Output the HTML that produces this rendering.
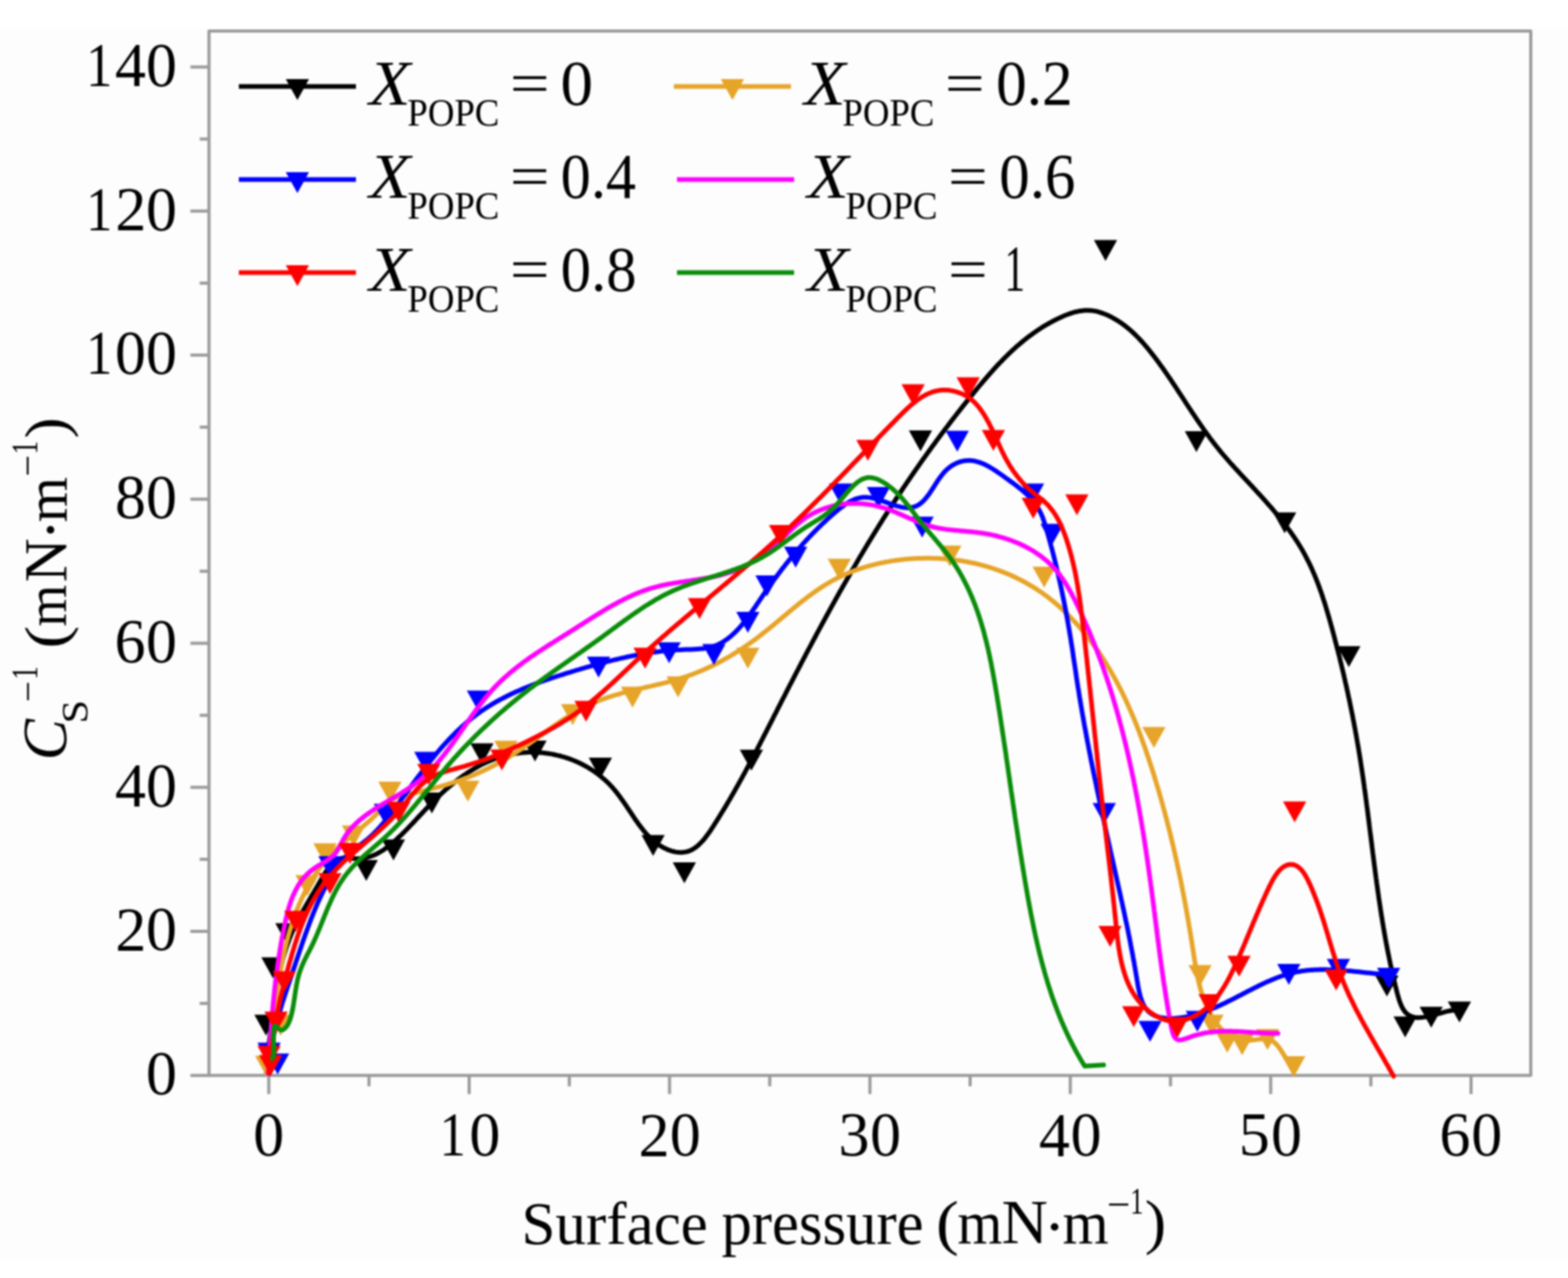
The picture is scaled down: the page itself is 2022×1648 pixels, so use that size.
<!DOCTYPE html>
<html><head><meta charset="utf-8"><title>Compressibility modulus vs surface pressure</title>
<style>html,body{margin:0;padding:0;background:#fdfdfd;}body{width:2022px;height:1648px;overflow:hidden;}svg{display:block;filter:blur(0.8px);}</style>
</head><body>
<svg xmlns="http://www.w3.org/2000/svg" width="2022" height="1648" viewBox="0 0 2022 1648" font-family="'Liberation Serif', 'Times New Roman', serif" fill="#000"><rect x="0" y="0" width="2022" height="37" fill="#ffffff"/>
<rect x="0" y="1624" width="2022" height="24" fill="#ffffff"/>
<rect x="269.5" y="40.0" width="1704.5" height="1346.8" fill="none" stroke="#9a9a9a" stroke-width="4" stroke-linejoin="round"/>
<line x1="245.5" y1="1386.8" x2="269.5" y2="1386.8" stroke="#9a9a9a" stroke-width="4"/>
<line x1="257.5" y1="1293.9" x2="269.5" y2="1293.9" stroke="#9a9a9a" stroke-width="4"/>
<line x1="245.5" y1="1201.0" x2="269.5" y2="1201.0" stroke="#9a9a9a" stroke-width="4"/>
<line x1="257.5" y1="1108.1" x2="269.5" y2="1108.1" stroke="#9a9a9a" stroke-width="4"/>
<line x1="245.5" y1="1015.3" x2="269.5" y2="1015.3" stroke="#9a9a9a" stroke-width="4"/>
<line x1="257.5" y1="922.4" x2="269.5" y2="922.4" stroke="#9a9a9a" stroke-width="4"/>
<line x1="245.5" y1="829.5" x2="269.5" y2="829.5" stroke="#9a9a9a" stroke-width="4"/>
<line x1="257.5" y1="736.6" x2="269.5" y2="736.6" stroke="#9a9a9a" stroke-width="4"/>
<line x1="245.5" y1="643.7" x2="269.5" y2="643.7" stroke="#9a9a9a" stroke-width="4"/>
<line x1="257.5" y1="550.8" x2="269.5" y2="550.8" stroke="#9a9a9a" stroke-width="4"/>
<line x1="245.5" y1="457.9" x2="269.5" y2="457.9" stroke="#9a9a9a" stroke-width="4"/>
<line x1="257.5" y1="365.1" x2="269.5" y2="365.1" stroke="#9a9a9a" stroke-width="4"/>
<line x1="245.5" y1="272.2" x2="269.5" y2="272.2" stroke="#9a9a9a" stroke-width="4"/>
<line x1="257.5" y1="179.3" x2="269.5" y2="179.3" stroke="#9a9a9a" stroke-width="4"/>
<line x1="245.5" y1="86.4" x2="269.5" y2="86.4" stroke="#9a9a9a" stroke-width="4"/>
<line x1="346.6" y1="1386.8" x2="346.6" y2="1410.8" stroke="#9a9a9a" stroke-width="4"/>
<line x1="475.8" y1="1386.8" x2="475.8" y2="1400.8" stroke="#9a9a9a" stroke-width="4"/>
<line x1="605.0" y1="1386.8" x2="605.0" y2="1410.8" stroke="#9a9a9a" stroke-width="4"/>
<line x1="734.2" y1="1386.8" x2="734.2" y2="1400.8" stroke="#9a9a9a" stroke-width="4"/>
<line x1="863.4" y1="1386.8" x2="863.4" y2="1410.8" stroke="#9a9a9a" stroke-width="4"/>
<line x1="992.6" y1="1386.8" x2="992.6" y2="1400.8" stroke="#9a9a9a" stroke-width="4"/>
<line x1="1121.8" y1="1386.8" x2="1121.8" y2="1410.8" stroke="#9a9a9a" stroke-width="4"/>
<line x1="1251.0" y1="1386.8" x2="1251.0" y2="1400.8" stroke="#9a9a9a" stroke-width="4"/>
<line x1="1380.2" y1="1386.8" x2="1380.2" y2="1410.8" stroke="#9a9a9a" stroke-width="4"/>
<line x1="1509.4" y1="1386.8" x2="1509.4" y2="1400.8" stroke="#9a9a9a" stroke-width="4"/>
<line x1="1638.6" y1="1386.8" x2="1638.6" y2="1410.8" stroke="#9a9a9a" stroke-width="4"/>
<line x1="1767.8" y1="1386.8" x2="1767.8" y2="1400.8" stroke="#9a9a9a" stroke-width="4"/>
<line x1="1897.0" y1="1386.8" x2="1897.0" y2="1410.8" stroke="#9a9a9a" stroke-width="4"/>
<path d="M343.6,1371.8 343.8,1369.8 344.1,1367.9 344.4,1366.0 344.6,1364.0 344.9,1362.1 345.2,1360.2 345.4,1358.2 345.7,1356.3 345.9,1354.3 346.2,1352.3 346.4,1350.4 346.7,1348.4 346.9,1346.4 347.1,1344.5 347.4,1342.5 347.6,1340.5 347.9,1338.5 348.1,1336.6 348.3,1334.6 348.6,1332.6 348.8,1330.6 349.0,1328.6 349.3,1326.6 349.5,1324.6 349.8,1322.6 350.0,1320.6 350.2,1318.6 350.5,1316.6 350.7,1314.6 351.0,1312.6 351.2,1310.6 351.5,1308.6 351.7,1306.6 352.0,1304.6 352.3,1302.6 352.5,1300.6 352.8,1298.6 353.1,1296.6 353.4,1294.6 353.7,1292.6 353.9,1290.6 354.2,1288.6 354.5,1286.6 354.9,1284.6 355.2,1282.6 355.5,1280.6 355.8,1278.7 356.1,1276.7 356.5,1274.7 356.8,1272.7 357.2,1270.7 357.5,1268.7 357.9,1266.8 358.3,1264.8 358.7,1262.8 359.1,1260.8 359.5,1258.9 359.9,1256.9 360.3,1254.9 360.7,1253.0 361.2,1251.0 361.6,1249.1 362.1,1247.1 362.5,1245.2 363.0,1243.2 363.5,1241.3 364.0,1239.4 364.5,1237.5 365.1,1235.5 365.6,1233.6 366.2,1231.7 366.7,1229.8 367.3,1227.9 367.9,1226.0 368.5,1224.1 369.1,1222.2 369.7,1220.4 370.4,1218.5 371.0,1216.6 371.7,1214.8 372.4,1212.9 373.1,1211.0 373.8,1209.2 374.5,1207.4 375.2,1205.5 376.0,1203.7 376.8,1201.9 377.6,1200.1 378.4,1198.3 379.2,1196.5 380.0,1194.7 380.9,1193.0 381.8,1191.2 382.6,1189.4 383.5,1187.7 384.4,1185.9 385.4,1184.2 386.3,1182.5 387.2,1180.8 388.2,1179.0 389.1,1177.3 390.1,1175.6 391.0,1174.0 392.0,1172.3 392.9,1170.6 393.9,1169.0 394.8,1167.3 395.8,1165.7 396.8,1164.0 397.7,1162.4 398.7,1160.8 399.6,1159.1 400.6,1157.5 401.6,1155.8 402.5,1154.2 403.5,1152.5 404.5,1150.9 405.5,1149.2 406.4,1147.5 407.4,1145.8 408.5,1144.0 409.5,1142.3 410.5,1140.5 411.5,1138.7 412.6,1136.9 413.6,1135.1 414.7,1133.2 415.8,1131.3 416.9,1129.4 418.0,1127.6 419.2,1125.7 420.4,1123.9 421.6,1122.2 422.8,1120.4 424.1,1118.7 425.4,1117.1 426.8,1115.6 428.2,1114.1 429.6,1112.8 431.1,1111.5 432.7,1110.4 434.2,1109.3 435.9,1108.4 437.6,1107.7 439.3,1107.0 441.2,1106.6 443.0,1106.3 445.0,1106.1 447.0,1106.1 449.1,1106.3 451.1,1106.5 453.2,1106.7 455.4,1106.9 457.4,1107.1 459.5,1107.2 461.6,1107.3 463.6,1107.2 465.6,1107.1 467.6,1106.8 469.5,1106.5 471.5,1106.2 473.4,1105.7 475.2,1105.2 477.1,1104.7 478.9,1104.0 480.8,1103.3 482.6,1102.6 484.3,1101.8 486.1,1100.9 487.8,1100.0 489.5,1099.0 491.2,1098.0 492.9,1097.0 494.6,1095.9 496.2,1094.8 497.8,1093.6 499.4,1092.4 501.0,1091.2 502.6,1089.9 504.1,1088.7 505.7,1087.4 507.2,1086.1 508.7,1084.7 510.2,1083.4 511.7,1082.1 513.1,1080.7 514.6,1079.3 516.0,1078.0 517.5,1076.6 518.9,1075.2 520.3,1073.8 521.7,1072.4 523.1,1071.0 524.5,1069.6 525.8,1068.2 527.2,1066.8 528.6,1065.3 529.9,1063.9 531.3,1062.5 532.6,1061.1 534.0,1059.6 535.3,1058.2 536.6,1056.8 538.0,1055.3 539.3,1053.9 540.7,1052.4 542.0,1051.0 543.3,1049.6 544.7,1048.1 546.0,1046.7 547.4,1045.2 548.7,1043.8 550.1,1042.4 551.5,1040.9 552.8,1039.5 554.2,1038.1 555.6,1036.6 557.0,1035.2 558.4,1033.8 559.8,1032.4 561.2,1031.0 562.7,1029.5 564.1,1028.1 565.6,1026.7 567.1,1025.4 568.5,1024.0 570.0,1022.6 571.5,1021.2 573.0,1019.9 574.5,1018.5 576.1,1017.2 577.6,1015.8 579.2,1014.5 580.7,1013.2 582.3,1011.9 583.9,1010.6 585.5,1009.3 587.1,1008.0 588.7,1006.8 590.3,1005.5 591.9,1004.3 593.5,1003.1 595.2,1001.9 596.8,1000.7 598.5,999.5 600.2,998.4 601.9,997.2 603.5,996.1 605.2,995.0 607.0,993.9 608.7,992.9 610.4,991.8 612.1,990.8 613.9,989.8 615.6,988.8 617.4,987.8 619.2,986.9 621.0,985.9 622.7,985.0 624.5,984.2 626.4,983.3 628.2,982.5 630.0,981.7 631.8,980.9 633.7,980.1 635.5,979.4 637.4,978.7 639.2,978.0 641.1,977.3 643.0,976.7 644.9,976.1 646.8,975.6 648.7,975.0 650.6,974.5 652.5,974.0 654.4,973.6 656.4,973.1 658.3,972.7 660.3,972.4 662.2,972.0 664.2,971.7 666.1,971.4 668.1,971.2 670.0,970.9 672.0,970.7 674.0,970.5 676.0,970.4 677.9,970.3 679.9,970.2 681.9,970.1 683.9,970.1 685.8,970.1 687.8,970.1 689.8,970.1 691.8,970.2 693.8,970.3 695.7,970.4 697.7,970.6 699.7,970.8 701.7,971.0 703.6,971.2 705.6,971.5 707.6,971.8 709.5,972.1 711.5,972.4 713.4,972.8 715.4,973.2 717.3,973.6 719.2,974.1 721.2,974.5 723.1,975.0 725.0,975.6 726.9,976.1 728.8,976.7 730.7,977.3 732.6,977.9 734.5,978.6 736.3,979.3 738.2,980.0 740.0,980.7 741.9,981.5 743.7,982.3 745.5,983.1 747.3,983.9 749.1,984.8 750.9,985.7 752.7,986.6 754.4,987.6 756.2,988.5 757.9,989.5 759.6,990.6 761.3,991.6 763.0,992.7 764.7,993.8 766.3,994.9 768.0,996.1 769.6,997.2 771.2,998.4 772.8,999.6 774.4,1000.9 775.9,1002.2 777.4,1003.5 779.0,1004.8 780.5,1006.1 782.0,1007.5 783.4,1008.9 784.9,1010.3 786.3,1011.8 787.7,1013.3 789.1,1014.8 790.4,1016.3 791.8,1017.8 793.1,1019.4 794.4,1021.0 795.7,1022.6 796.9,1024.2 798.2,1025.9 799.4,1027.5 800.6,1029.2 801.8,1030.9 803.0,1032.6 804.2,1034.3 805.4,1036.0 806.6,1037.7 807.7,1039.4 808.9,1041.2 810.1,1042.9 811.2,1044.6 812.4,1046.4 813.5,1048.1 814.7,1049.8 815.8,1051.6 817.0,1053.3 818.1,1055.0 819.3,1056.7 820.5,1058.4 821.7,1060.1 822.8,1061.7 824.0,1063.4 825.3,1065.0 826.5,1066.6 827.7,1068.2 829.0,1069.8 830.2,1071.3 831.5,1072.9 832.8,1074.4 834.1,1075.9 835.5,1077.3 836.8,1078.7 838.2,1080.1 839.6,1081.5 841.1,1082.8 842.5,1084.1 844.0,1085.3 845.6,1086.5 847.1,1087.7 848.7,1088.8 850.3,1089.9 851.9,1091.0 853.6,1091.9 855.3,1092.9 857.0,1093.8 858.8,1094.6 860.5,1095.4 862.3,1096.1 864.1,1096.7 865.9,1097.3 867.7,1097.8 869.5,1098.2 871.3,1098.6 873.2,1098.9 875.0,1099.1 876.8,1099.2 878.6,1099.2 880.4,1099.1 882.1,1098.9 883.9,1098.6 885.6,1098.3 887.3,1097.8 889.0,1097.2 890.7,1096.5 892.3,1095.7 893.9,1094.8 895.5,1093.8 897.1,1092.7 898.6,1091.5 900.1,1090.3 901.6,1088.9 903.0,1087.5 904.5,1086.0 905.9,1084.5 907.3,1082.9 908.7,1081.3 910.0,1079.6 911.3,1077.8 912.6,1076.1 913.9,1074.3 915.2,1072.5 916.5,1070.6 917.7,1068.7 918.9,1066.9 920.1,1065.0 921.3,1063.1 922.5,1061.2 923.7,1059.4 924.8,1057.5 926.0,1055.7 927.1,1053.9 928.2,1052.1 929.3,1050.2 930.4,1048.5 931.5,1046.7 932.6,1044.9 933.7,1043.1 934.7,1041.4 935.8,1039.6 936.8,1037.9 937.8,1036.2 938.8,1034.5 939.9,1032.7 940.9,1031.0 941.9,1029.3 942.8,1027.6 943.8,1025.9 944.8,1024.3 945.8,1022.6 946.7,1020.9 947.7,1019.2 948.6,1017.5 949.6,1015.8 950.5,1014.2 951.5,1012.5 952.4,1010.8 953.4,1009.1 954.3,1007.4 955.2,1005.8 956.2,1004.1 957.1,1002.4 958.0,1000.7 958.9,999.0 959.9,997.3 960.8,995.6 961.7,993.9 962.6,992.2 963.5,990.5 964.5,988.7 965.4,987.0 966.3,985.3 967.2,983.6 968.1,981.8 969.1,980.1 970.0,978.3 970.9,976.6 971.8,974.9 972.7,973.1 973.7,971.3 974.6,969.6 975.5,967.8 976.4,966.1 977.3,964.3 978.2,962.5 979.1,960.8 980.1,959.0 981.0,957.2 981.9,955.4 982.8,953.7 983.7,951.9 984.6,950.1 985.5,948.3 986.5,946.5 987.4,944.7 988.3,943.0 989.2,941.2 990.1,939.4 991.0,937.6 991.9,935.8 992.9,934.0 993.8,932.2 994.7,930.4 995.6,928.6 996.5,926.8 997.4,925.0 998.3,923.2 999.2,921.4 1000.2,919.6 1001.1,917.8 1002.0,916.0 1002.9,914.2 1003.8,912.4 1004.7,910.6 1005.7,908.8 1006.6,907.0 1007.5,905.2 1008.4,903.4 1009.3,901.7 1010.2,899.9 1011.2,898.1 1012.1,896.3 1013.0,894.5 1013.9,892.7 1014.8,890.9 1015.7,889.1 1016.7,887.3 1017.6,885.5 1018.5,883.7 1019.4,881.9 1020.4,880.2 1021.3,878.4 1022.2,876.6 1023.1,874.8 1024.0,873.0 1025.0,871.2 1025.9,869.4 1026.8,867.7 1027.7,865.9 1028.7,864.1 1029.6,862.3 1030.5,860.5 1031.5,858.7 1032.4,857.0 1033.3,855.2 1034.2,853.4 1035.2,851.6 1036.1,849.8 1037.0,848.1 1038.0,846.3 1038.9,844.5 1039.8,842.7 1040.8,841.0 1041.7,839.2 1042.6,837.4 1043.6,835.6 1044.5,833.9 1045.5,832.1 1046.4,830.3 1047.3,828.6 1048.3,826.8 1049.2,825.0 1050.2,823.2 1051.1,821.5 1052.1,819.7 1053.0,817.9 1053.9,816.2 1054.9,814.4 1055.8,812.7 1056.8,810.9 1057.7,809.1 1058.7,807.4 1059.6,805.6 1060.6,803.8 1061.6,802.1 1062.5,800.3 1063.5,798.6 1064.4,796.8 1065.4,795.1 1066.3,793.3 1067.3,791.5 1068.3,789.8 1069.2,788.0 1070.2,786.3 1071.1,784.5 1072.1,782.8 1073.1,781.0 1074.0,779.3 1075.0,777.5 1076.0,775.8 1077.0,774.0 1077.9,772.3 1078.9,770.6 1079.9,768.8 1080.9,767.1 1081.8,765.3 1082.8,763.6 1083.8,761.8 1084.8,760.1 1085.8,758.4 1086.7,756.6 1087.7,754.9 1088.7,753.2 1089.7,751.4 1090.7,749.7 1091.7,747.9 1092.7,746.2 1093.7,744.5 1094.7,742.8 1095.7,741.0 1096.6,739.3 1097.6,737.6 1098.6,735.8 1099.6,734.1 1100.7,732.4 1101.7,730.7 1102.7,728.9 1103.7,727.2 1104.7,725.5 1105.7,723.8 1106.7,722.1 1107.7,720.3 1108.7,718.6 1109.7,716.9 1110.8,715.2 1111.8,713.5 1112.8,711.8 1113.8,710.0 1114.9,708.3 1115.9,706.6 1116.9,704.9 1117.9,703.2 1119.0,701.5 1120.0,699.8 1121.0,698.1 1122.1,696.4 1123.1,694.7 1124.1,693.0 1125.2,691.3 1126.2,689.6 1127.3,687.9 1128.3,686.2 1129.4,684.5 1130.4,682.8 1131.5,681.1 1132.5,679.4 1133.6,677.7 1134.6,676.0 1135.7,674.3 1136.8,672.6 1137.8,670.9 1138.9,669.2 1140.0,667.5 1141.0,665.8 1142.1,664.2 1143.2,662.5 1144.2,660.8 1145.3,659.1 1146.4,657.4 1147.5,655.7 1148.6,654.1 1149.6,652.4 1150.7,650.7 1151.8,649.0 1152.9,647.4 1154.0,645.7 1155.1,644.0 1156.2,642.3 1157.3,640.7 1158.4,639.0 1159.5,637.3 1160.6,635.7 1161.7,634.0 1162.8,632.3 1163.9,630.7 1165.0,629.0 1166.1,627.4 1167.3,625.7 1168.4,624.0 1169.5,622.4 1170.6,620.7 1171.8,619.1 1172.9,617.4 1174.0,615.8 1175.1,614.1 1176.3,612.5 1177.4,610.8 1178.5,609.2 1179.7,607.5 1180.8,605.9 1182.0,604.2 1183.1,602.6 1184.3,601.0 1185.4,599.3 1186.6,597.7 1187.7,596.0 1188.9,594.4 1190.0,592.8 1191.2,591.1 1192.4,589.5 1193.5,587.9 1194.7,586.3 1195.9,584.6 1197.0,583.0 1198.2,581.4 1199.4,579.8 1200.5,578.1 1201.7,576.5 1202.9,574.9 1204.1,573.3 1205.3,571.7 1206.5,570.0 1207.6,568.4 1208.8,566.8 1210.0,565.2 1211.2,563.6 1212.4,562.0 1213.6,560.4 1214.8,558.8 1216.0,557.2 1217.2,555.6 1218.4,554.0 1219.6,552.4 1220.9,550.8 1222.1,549.2 1223.3,547.6 1224.5,546.0 1225.7,544.4 1226.9,542.8 1228.2,541.2 1229.4,539.6 1230.6,538.0 1231.8,536.5 1233.1,534.9 1234.3,533.3 1235.5,531.7 1236.8,530.1 1238.0,528.6 1239.2,527.0 1240.5,525.4 1241.7,523.8 1243.0,522.3 1244.2,520.7 1245.5,519.1 1246.7,517.6 1248.0,516.0 1249.2,514.5 1250.5,512.9 1251.8,511.3 1253.0,509.8 1254.3,508.2 1255.6,506.7 1256.8,505.1 1258.1,503.6 1259.4,502.0 1260.6,500.5 1261.9,498.9 1263.2,497.4 1264.5,495.9 1265.8,494.3 1267.1,492.8 1268.4,491.3 1269.7,489.7 1271.0,488.2 1272.3,486.7 1273.6,485.2 1274.9,483.7 1276.2,482.2 1277.5,480.7 1278.9,479.2 1280.2,477.7 1281.5,476.2 1282.9,474.8 1284.2,473.3 1285.6,471.8 1286.9,470.4 1288.3,468.9 1289.7,467.5 1291.1,466.1 1292.5,464.6 1293.8,463.2 1295.2,461.8 1296.7,460.4 1298.1,459.0 1299.5,457.6 1300.9,456.2 1302.3,454.9 1303.8,453.5 1305.2,452.1 1306.7,450.8 1308.2,449.5 1309.6,448.1 1311.1,446.8 1312.6,445.5 1314.1,444.2 1315.6,442.9 1317.2,441.6 1318.7,440.4 1320.2,439.1 1321.8,437.9 1323.3,436.6 1324.9,435.4 1326.5,434.2 1328.1,433.0 1329.7,431.8 1331.3,430.7 1332.9,429.5 1334.5,428.4 1336.2,427.2 1337.8,426.1 1339.5,425.0 1341.1,423.9 1342.8,422.8 1344.5,421.7 1346.2,420.7 1348.0,419.7 1349.7,418.6 1351.5,417.6 1353.2,416.6 1355.0,415.6 1356.8,414.7 1358.6,413.7 1360.4,412.8 1362.2,411.9 1364.1,411.0 1365.9,410.1 1367.8,409.2 1369.7,408.4 1371.5,407.5 1373.4,406.8 1375.4,406.0 1377.3,405.3 1379.2,404.6 1381.1,403.9 1383.1,403.3 1385.0,402.7 1387.0,402.2 1389.0,401.8 1390.9,401.3 1392.9,401.0 1394.9,400.7 1396.8,400.5 1398.8,400.3 1400.8,400.2 1402.8,400.2 1404.7,400.2 1406.7,400.4 1408.7,400.6 1410.6,400.9 1412.6,401.2 1414.5,401.7 1416.5,402.2 1418.4,402.8 1420.3,403.4 1422.2,404.1 1424.1,404.8 1426.0,405.5 1427.8,406.3 1429.6,407.1 1431.4,408.0 1433.2,408.9 1434.9,409.8 1436.7,410.8 1438.4,411.8 1440.1,412.8 1441.8,413.8 1443.4,414.9 1445.1,416.0 1446.7,417.2 1448.3,418.3 1449.9,419.5 1451.5,420.7 1453.0,422.0 1454.6,423.2 1456.1,424.5 1457.6,425.8 1459.1,427.1 1460.6,428.5 1462.0,429.8 1463.5,431.2 1464.9,432.6 1466.3,434.0 1467.8,435.5 1469.1,436.9 1470.5,438.4 1471.9,439.9 1473.3,441.4 1474.6,442.9 1475.9,444.4 1477.2,446.0 1478.6,447.5 1479.9,449.1 1481.1,450.6 1482.4,452.2 1483.7,453.8 1484.9,455.4 1486.2,457.0 1487.4,458.6 1488.7,460.2 1489.9,461.8 1491.1,463.4 1492.3,465.0 1493.5,466.6 1494.7,468.2 1495.9,469.9 1497.0,471.5 1498.2,473.1 1499.4,474.7 1500.5,476.4 1501.7,478.0 1502.8,479.6 1503.9,481.3 1505.1,482.9 1506.2,484.6 1507.3,486.2 1508.4,487.8 1509.6,489.5 1510.7,491.1 1511.8,492.8 1512.9,494.5 1514.0,496.1 1515.1,497.8 1516.2,499.4 1517.3,501.1 1518.4,502.7 1519.4,504.4 1520.5,506.1 1521.6,507.7 1522.7,509.4 1523.8,511.1 1524.9,512.7 1526.0,514.4 1527.1,516.1 1528.2,517.7 1529.2,519.4 1530.3,521.1 1531.4,522.7 1532.5,524.4 1533.6,526.1 1534.7,527.7 1535.8,529.4 1536.9,531.1 1538.0,532.8 1539.1,534.4 1540.3,536.1 1541.4,537.8 1542.5,539.4 1543.6,541.1 1544.7,542.8 1545.9,544.4 1547.0,546.1 1548.2,547.8 1549.3,549.4 1550.5,551.1 1551.6,552.7 1552.8,554.4 1553.9,556.0 1555.1,557.6 1556.3,559.3 1557.5,560.9 1558.7,562.5 1559.8,564.2 1561.0,565.8 1562.3,567.4 1563.5,569.0 1564.7,570.6 1565.9,572.2 1567.1,573.7 1568.4,575.3 1569.6,576.9 1570.9,578.4 1572.1,580.0 1573.4,581.5 1574.6,583.1 1575.9,584.6 1577.2,586.1 1578.5,587.6 1579.8,589.1 1581.1,590.6 1582.4,592.1 1583.7,593.6 1585.0,595.1 1586.3,596.6 1587.6,598.1 1589.0,599.5 1590.3,601.0 1591.6,602.5 1593.0,604.0 1594.3,605.4 1595.7,606.9 1597.0,608.3 1598.3,609.8 1599.7,611.3 1601.0,612.7 1602.4,614.2 1603.8,615.6 1605.1,617.1 1606.5,618.5 1607.8,620.0 1609.2,621.4 1610.6,622.9 1611.9,624.4 1613.3,625.8 1614.7,627.3 1616.0,628.8 1617.4,630.2 1618.8,631.7 1620.1,633.2 1621.5,634.7 1622.8,636.2 1624.2,637.6 1625.6,639.1 1626.9,640.6 1628.3,642.1 1629.6,643.6 1631.0,645.1 1632.3,646.6 1633.7,648.2 1635.0,649.7 1636.3,651.2 1637.7,652.7 1639.0,654.2 1640.3,655.8 1641.6,657.3 1642.9,658.9 1644.2,660.4 1645.5,662.0 1646.8,663.5 1648.1,665.1 1649.4,666.6 1650.7,668.2 1651.9,669.8 1653.2,671.4 1654.4,673.0 1655.7,674.6 1656.9,676.2 1658.1,677.8 1659.3,679.4 1660.5,681.0 1661.7,682.6 1662.9,684.2 1664.1,685.9 1665.3,687.5 1666.4,689.1 1667.5,690.8 1668.7,692.4 1669.8,694.1 1670.9,695.8 1672.0,697.4 1673.1,699.1 1674.2,700.8 1675.2,702.5 1676.3,704.2 1677.3,705.9 1678.3,707.6 1679.3,709.3 1680.3,711.1 1681.3,712.8 1682.2,714.6 1683.2,716.3 1684.1,718.1 1685.0,719.8 1685.9,721.6 1686.8,723.4 1687.7,725.1 1688.6,726.9 1689.4,728.7 1690.3,730.5 1691.1,732.3 1691.9,734.1 1692.7,735.9 1693.5,737.8 1694.3,739.6 1695.1,741.4 1695.8,743.2 1696.6,745.1 1697.3,746.9 1698.1,748.8 1698.8,750.6 1699.5,752.5 1700.2,754.4 1700.9,756.2 1701.6,758.1 1702.2,760.0 1702.9,761.9 1703.6,763.7 1704.2,765.6 1704.9,767.5 1705.5,769.4 1706.1,771.3 1706.7,773.2 1707.4,775.1 1708.0,777.0 1708.6,778.9 1709.2,780.8 1709.8,782.7 1710.3,784.6 1710.9,786.6 1711.5,788.5 1712.0,790.4 1712.6,792.3 1713.2,794.3 1713.7,796.2 1714.3,798.1 1714.8,800.0 1715.4,802.0 1715.9,803.9 1716.4,805.8 1717.0,807.8 1717.5,809.7 1718.0,811.6 1718.5,813.6 1719.1,815.5 1719.6,817.5 1720.1,819.4 1720.6,821.3 1721.1,823.3 1721.6,825.2 1722.1,827.2 1722.6,829.1 1723.1,831.0 1723.6,833.0 1724.1,834.9 1724.6,836.9 1725.1,838.8 1725.6,840.7 1726.1,842.7 1726.6,844.6 1727.1,846.6 1727.6,848.5 1728.0,850.5 1728.5,852.4 1729.0,854.4 1729.5,856.3 1729.9,858.3 1730.4,860.2 1730.9,862.2 1731.3,864.1 1731.8,866.1 1732.3,868.0 1732.7,870.0 1733.2,871.9 1733.6,873.9 1734.1,875.8 1734.5,877.8 1734.9,879.7 1735.4,881.7 1735.8,883.6 1736.3,885.6 1736.7,887.6 1737.1,889.5 1737.6,891.5 1738.0,893.4 1738.4,895.4 1738.8,897.3 1739.2,899.3 1739.7,901.3 1740.1,903.2 1740.5,905.2 1740.9,907.1 1741.3,909.1 1741.7,911.1 1742.1,913.0 1742.5,915.0 1742.9,917.0 1743.3,918.9 1743.7,920.9 1744.1,922.8 1744.5,924.8 1744.8,926.8 1745.2,928.7 1745.6,930.7 1746.0,932.7 1746.3,934.6 1746.7,936.6 1747.1,938.6 1747.5,940.5 1747.8,942.5 1748.2,944.5 1748.5,946.4 1748.9,948.4 1749.2,950.4 1749.6,952.4 1749.9,954.3 1750.3,956.3 1750.6,958.3 1751.0,960.2 1751.3,962.2 1751.6,964.2 1752.0,966.2 1752.3,968.1 1752.6,970.1 1752.9,972.1 1753.3,974.0 1753.6,976.0 1753.9,978.0 1754.2,980.0 1754.5,981.9 1754.8,983.9 1755.1,985.9 1755.4,987.9 1755.7,989.9 1756.0,991.8 1756.3,993.8 1756.6,995.8 1756.9,997.8 1757.2,999.7 1757.5,1001.7 1757.8,1003.7 1758.1,1005.7 1758.3,1007.7 1758.6,1009.6 1758.9,1011.6 1759.2,1013.6 1759.4,1015.6 1759.7,1017.6 1760.0,1019.5 1760.3,1021.5 1760.5,1023.5 1760.8,1025.5 1761.1,1027.5 1761.3,1029.4 1761.6,1031.4 1761.9,1033.4 1762.1,1035.4 1762.4,1037.4 1762.6,1039.4 1762.9,1041.3 1763.2,1043.3 1763.4,1045.3 1763.7,1047.3 1763.9,1049.3 1764.2,1051.3 1764.4,1053.2 1764.7,1055.2 1764.9,1057.2 1765.2,1059.2 1765.4,1061.2 1765.7,1063.2 1765.9,1065.1 1766.2,1067.1 1766.4,1069.1 1766.7,1071.1 1766.9,1073.1 1767.2,1075.1 1767.4,1077.0 1767.7,1079.0 1767.9,1081.0 1768.2,1083.0 1768.4,1085.0 1768.7,1087.0 1768.9,1089.0 1769.2,1090.9 1769.4,1092.9 1769.7,1094.9 1769.9,1096.9 1770.2,1098.9 1770.4,1100.9 1770.7,1102.9 1770.9,1104.8 1771.2,1106.8 1771.4,1108.8 1771.7,1110.8 1771.9,1112.8 1772.2,1114.8 1772.4,1116.7 1772.7,1118.7 1773.0,1120.7 1773.2,1122.7 1773.5,1124.7 1773.7,1126.7 1774.0,1128.7 1774.3,1130.6 1774.5,1132.6 1774.8,1134.6 1775.1,1136.6 1775.3,1138.6 1775.6,1140.6 1775.9,1142.5 1776.2,1144.5 1776.4,1146.5 1776.7,1148.5 1777.0,1150.5 1777.3,1152.4 1777.6,1154.4 1777.8,1156.4 1778.1,1158.4 1778.4,1160.4 1778.7,1162.4 1779.0,1164.3 1779.3,1166.3 1779.6,1168.3 1779.9,1170.3 1780.2,1172.3 1780.5,1174.2 1780.8,1176.2 1781.1,1178.2 1781.4,1180.2 1781.7,1182.2 1782.1,1184.1 1782.4,1186.1 1782.7,1188.1 1783.0,1190.1 1783.4,1192.1 1783.7,1194.0 1784.0,1196.0 1784.4,1198.0 1784.7,1200.0 1785.0,1201.9 1785.4,1203.9 1785.7,1205.9 1786.1,1207.9 1786.4,1209.8 1786.8,1211.8 1787.2,1213.8 1787.5,1215.8 1787.9,1217.7 1788.3,1219.7 1788.6,1221.7 1789.0,1223.7 1789.4,1225.6 1789.8,1227.6 1790.2,1229.6 1790.6,1231.5 1791.0,1233.5 1791.4,1235.5 1791.8,1237.5 1792.2,1239.4 1792.6,1241.4 1793.0,1243.4 1793.5,1245.3 1793.9,1247.3 1794.3,1249.3 1794.7,1251.2 1795.2,1253.2 1795.6,1255.2 1796.1,1257.1 1796.5,1259.1 1797.0,1261.1 1797.5,1263.0 1797.9,1265.0 1798.4,1266.9 1798.9,1268.9 1799.3,1270.9 1799.8,1272.8 1800.3,1274.8 1800.8,1276.8 1801.3,1278.7 1801.8,1280.7 1802.3,1282.6 1802.9,1284.6 1803.4,1286.5 1804.0,1288.4 1804.6,1290.3 1805.2,1292.1 1805.9,1293.9 1806.6,1295.7 1807.3,1297.4 1808.1,1299.0 1809.0,1300.6 1809.9,1302.1 1810.9,1303.5 1811.9,1304.8 1813.1,1306.1 1814.3,1307.2 1815.6,1308.3 1817.0,1309.2 1818.5,1310.0 1820.0,1310.7 1821.7,1311.3 1823.5,1311.7 1825.4,1312.0 1827.4,1312.2 1829.6,1312.2 1831.8,1312.1 1834.1,1311.9 1836.4,1311.6 1838.8,1311.2 1841.3,1310.7 1843.7,1310.2 1846.2,1309.6 1848.6,1309.0 1851.0,1308.3 1853.4,1307.7 1855.7,1307.0 1858.0,1306.4 1860.1,1305.8 1862.2,1305.2 1864.1,1304.7 1866.0,1304.2 1867.7,1303.8 1869.2,1303.5 1870.8,1303.2 1872.3,1303.0 1873.9,1302.8 1875.6,1302.6 1877.4,1302.5 1879.3,1302.3 1881.5,1302.2" fill="none" stroke="#000000" stroke-width="6.0" stroke-linejoin="round" stroke-linecap="round"/>
<path d="M328.0,1308.5L358.0,1308.5L343.0,1335.5Z" fill="#000000"/>
<path d="M337.0,1234.5L367.0,1234.5L352.0,1261.5Z" fill="#000000"/>
<path d="M355.0,1190.5L385.0,1190.5L370.0,1217.5Z" fill="#000000"/>
<path d="M457.3,1108.9L487.3,1108.9L472.3,1135.9Z" fill="#000000"/>
<path d="M492.4,1082.5L522.4,1082.5L507.4,1109.5Z" fill="#000000"/>
<path d="M541.9,1022.0L571.9,1022.0L556.9,1049.0Z" fill="#000000"/>
<path d="M606.5,958.5L636.5,958.5L621.5,985.5Z" fill="#000000"/>
<path d="M674.9,954.9L704.9,954.9L689.9,981.9Z" fill="#000000"/>
<path d="M759.2,977.0L789.2,977.0L774.2,1004.0Z" fill="#000000"/>
<path d="M827.2,1076.7L857.2,1076.7L842.2,1103.7Z" fill="#000000"/>
<path d="M867.5,1111.9L897.5,1111.9L882.5,1138.9Z" fill="#000000"/>
<path d="M954.0,966.7L984.0,966.7L969.0,993.7Z" fill="#000000"/>
<path d="M1172.0,555.1L1202.0,555.1L1187.0,582.1Z" fill="#000000"/>
<path d="M1410.6,309.5L1440.6,309.5L1425.6,336.5Z" fill="#000000"/>
<path d="M1527.8,556.0L1557.8,556.0L1542.8,583.0Z" fill="#000000"/>
<path d="M1641.6,660.8L1671.6,660.8L1656.6,687.8Z" fill="#000000"/>
<path d="M1724.4,833.2L1754.4,833.2L1739.4,860.2Z" fill="#000000"/>
<path d="M1773.5,1258.1L1803.5,1258.1L1788.5,1285.1Z" fill="#000000"/>
<path d="M1797.0,1310.8L1827.0,1310.8L1812.0,1337.8Z" fill="#000000"/>
<path d="M1830.6,1298.3L1860.6,1298.3L1845.6,1325.3Z" fill="#000000"/>
<path d="M1867.0,1291.5L1897.0,1291.5L1882.0,1318.5Z" fill="#000000"/>
<path d="M342.9,1383.5 343.2,1381.6 343.5,1379.7 343.8,1377.8 344.1,1375.9 344.4,1374.0 344.7,1372.1 345.0,1370.2 345.2,1368.3 345.5,1366.3 345.8,1364.4 346.1,1362.5 346.3,1360.6 346.6,1358.6 346.9,1356.7 347.1,1354.7 347.4,1352.8 347.7,1350.8 347.9,1348.9 348.2,1346.9 348.4,1344.9 348.7,1343.0 348.9,1341.0 349.2,1339.0 349.4,1337.1 349.7,1335.1 349.9,1333.1 350.2,1331.1 350.4,1329.1 350.7,1327.1 350.9,1325.1 351.2,1323.1 351.5,1321.1 351.7,1319.1 352.0,1317.1 352.2,1315.1 352.5,1313.1 352.7,1311.1 353.0,1309.1 353.2,1307.1 353.5,1305.1 353.8,1303.1 354.0,1301.1 354.3,1299.1 354.6,1297.1 354.9,1295.0 355.1,1293.0 355.4,1291.0 355.7,1289.0 356.0,1287.0 356.3,1285.0 356.6,1283.0 356.9,1280.9 357.2,1278.9 357.5,1276.9 357.8,1274.9 358.1,1272.9 358.4,1270.9 358.7,1268.9 359.0,1266.8 359.4,1264.8 359.7,1262.8 360.0,1260.8 360.4,1258.8 360.7,1256.8 361.1,1254.8 361.4,1252.8 361.8,1250.8 362.2,1248.8 362.6,1246.8 362.9,1244.8 363.3,1242.8 363.7,1240.8 364.1,1238.8 364.5,1236.9 365.0,1234.9 365.4,1232.9 365.8,1230.9 366.2,1228.9 366.7,1227.0 367.1,1225.0 367.6,1223.0 368.1,1221.1 368.6,1219.1 369.0,1217.2 369.5,1215.2 370.0,1213.3 370.6,1211.3 371.1,1209.4 371.6,1207.5 372.1,1205.5 372.7,1203.6 373.2,1201.7 373.8,1199.8 374.4,1197.9 375.0,1196.0 375.6,1194.1 376.2,1192.2 376.8,1190.3 377.4,1188.4 378.1,1186.5 378.7,1184.6 379.4,1182.8 380.1,1180.9 380.7,1179.0 381.4,1177.2 382.1,1175.3 382.9,1173.5 383.6,1171.7 384.3,1169.9 385.1,1168.0 385.8,1166.2 386.6,1164.4 387.4,1162.6 388.2,1160.8 389.0,1159.0 389.9,1157.3 390.7,1155.5 391.6,1153.7 392.4,1152.0 393.3,1150.2 394.2,1148.5 395.1,1146.7 396.1,1145.0 397.0,1143.3 398.0,1141.6 398.9,1139.9 399.9,1138.2 400.9,1136.5 401.9,1134.8 402.9,1133.2 404.0,1131.5 405.0,1129.9 406.1,1128.2 407.2,1126.6 408.3,1125.0 409.4,1123.4 410.6,1121.8 411.7,1120.2 412.9,1118.6 414.1,1117.0 415.3,1115.5 416.5,1113.9 417.8,1112.4 419.0,1110.8 420.3,1109.3 421.6,1107.8 422.9,1106.3 424.2,1104.8 425.6,1103.3 426.9,1101.8 428.3,1100.4 429.7,1098.9 431.1,1097.5 432.5,1096.1 434.0,1094.7 435.5,1093.3 437.0,1091.9 438.5,1090.5 440.0,1089.1 441.5,1087.8 443.1,1086.4 444.6,1085.1 446.2,1083.7 447.8,1082.4 449.4,1081.1 451.0,1079.7 452.6,1078.4 454.2,1077.1 455.8,1075.8 457.4,1074.5 459.0,1073.1 460.6,1071.8 462.2,1070.5 463.8,1069.2 465.4,1067.9 467.0,1066.6 468.5,1065.3 470.1,1063.9 471.7,1062.6 473.2,1061.3 474.8,1059.9 476.3,1058.6 477.8,1057.2 479.3,1055.9 480.8,1054.5 482.3,1053.1 483.7,1051.7 485.1,1050.3 486.6,1048.9 487.9,1047.5 489.3,1046.1 490.6,1044.6 491.9,1043.2 493.2,1041.7 494.5,1040.3 495.8,1038.8 497.2,1037.5 498.5,1036.1 499.9,1034.8 501.3,1033.6 502.8,1032.5 504.4,1031.5 506.0,1030.5 507.7,1029.7 509.4,1028.9 511.2,1028.2 513.1,1027.6 515.0,1027.0 516.9,1026.5 518.9,1026.0 520.9,1025.5 522.9,1025.1 524.9,1024.7 526.9,1024.2 528.9,1023.8 530.9,1023.3 532.9,1022.9 534.8,1022.4 536.8,1022.0 538.8,1021.5 540.8,1021.1 542.8,1020.6 544.8,1020.1 546.7,1019.6 548.7,1019.2 550.7,1018.7 552.6,1018.2 554.6,1017.7 556.6,1017.2 558.5,1016.7 560.5,1016.2 562.4,1015.6 564.4,1015.1 566.3,1014.6 568.3,1014.0 570.2,1013.5 572.1,1012.9 574.1,1012.3 576.0,1011.8 577.9,1011.2 579.8,1010.6 581.7,1010.0 583.7,1009.4 585.6,1008.8 587.5,1008.1 589.4,1007.5 591.2,1006.8 593.1,1006.2 595.0,1005.5 596.9,1004.8 598.8,1004.1 600.6,1003.4 602.5,1002.7 604.3,1002.0 606.2,1001.3 608.0,1000.5 609.9,999.8 611.7,999.0 613.5,998.2 615.4,997.4 617.2,996.6 619.0,995.8 620.8,995.0 622.6,994.2 624.4,993.3 626.2,992.5 628.0,991.6 629.8,990.7 631.6,989.8 633.3,988.9 635.1,988.0 636.9,987.1 638.6,986.2 640.4,985.2 642.1,984.3 643.9,983.3 645.6,982.4 647.3,981.4 649.1,980.4 650.8,979.4 652.5,978.4 654.2,977.4 655.9,976.3 657.6,975.3 659.3,974.2 661.0,973.2 662.7,972.1 664.4,971.0 666.1,970.0 667.7,968.9 669.4,967.8 671.1,966.7 672.7,965.5 674.4,964.4 676.0,963.3 677.7,962.1 679.3,961.0 681.0,959.9 682.6,958.7 684.3,957.6 685.9,956.4 687.6,955.2 689.2,954.1 690.8,952.9 692.5,951.7 694.1,950.6 695.7,949.4 697.3,948.2 699.0,947.1 700.6,945.9 702.2,944.7 703.9,943.6 705.5,942.4 707.1,941.2 708.8,940.1 710.4,938.9 712.1,937.8 713.7,936.6 715.3,935.5 717.0,934.3 718.6,933.2 720.3,932.1 721.9,931.0 723.6,929.9 725.2,928.7 726.9,927.7 728.6,926.6 730.3,925.5 731.9,924.4 733.6,923.4 735.3,922.3 737.0,921.3 738.7,920.2 740.4,919.2 742.1,918.2 743.8,917.2 745.5,916.3 747.3,915.3 749.0,914.3 750.7,913.4 752.5,912.5 754.3,911.6 756.0,910.7 757.8,909.8 759.6,909.0 761.4,908.1 763.2,907.3 765.0,906.5 766.8,905.7 768.6,905.0 770.4,904.2 772.3,903.5 774.1,902.8 776.0,902.1 777.9,901.4 779.7,900.7 781.6,900.1 783.5,899.4 785.4,898.8 787.3,898.2 789.2,897.6 791.1,897.0 793.0,896.4 795.0,895.9 796.9,895.3 798.8,894.8 800.8,894.2 802.7,893.7 804.7,893.2 806.6,892.7 808.6,892.2 810.5,891.7 812.5,891.2 814.5,890.7 816.4,890.2 818.4,889.7 820.4,889.2 822.4,888.8 824.3,888.3 826.3,887.8 828.3,887.4 830.3,886.9 832.2,886.5 834.2,886.0 836.2,885.5 838.2,885.1 840.2,884.6 842.1,884.1 844.1,883.7 846.1,883.2 848.1,882.7 850.0,882.3 852.0,881.8 854.0,881.3 855.9,880.8 857.9,880.3 859.9,879.8 861.8,879.3 863.8,878.8 865.7,878.2 867.7,877.7 869.6,877.1 871.5,876.6 873.5,876.0 875.4,875.4 877.3,874.8 879.2,874.2 881.1,873.6 883.0,873.0 884.9,872.4 886.8,871.7 888.7,871.0 890.6,870.4 892.5,869.7 894.3,869.0 896.2,868.2 898.0,867.5 899.9,866.8 901.7,866.0 903.6,865.2 905.4,864.5 907.2,863.7 909.0,862.9 910.9,862.0 912.7,861.2 914.5,860.4 916.3,859.5 918.0,858.7 919.8,857.8 921.6,856.9 923.4,856.0 925.1,855.1 926.9,854.2 928.7,853.3 930.4,852.3 932.1,851.4 933.9,850.4 935.6,849.4 937.3,848.5 939.1,847.5 940.8,846.5 942.5,845.5 944.2,844.4 945.9,843.4 947.6,842.4 949.3,841.3 950.9,840.3 952.6,839.2 954.3,838.1 955.9,837.0 957.6,835.9 959.3,834.8 960.9,833.7 962.5,832.6 964.2,831.4 965.8,830.3 967.4,829.1 969.1,828.0 970.7,826.8 972.3,825.6 973.9,824.5 975.5,823.3 977.1,822.1 978.7,820.9 980.3,819.6 981.9,818.4 983.4,817.2 985.0,815.9 986.6,814.7 988.1,813.4 989.7,812.2 991.3,810.9 992.8,809.7 994.4,808.4 995.9,807.1 997.5,805.8 999.0,804.6 1000.5,803.3 1002.1,802.0 1003.6,800.7 1005.2,799.4 1006.7,798.1 1008.2,796.9 1009.8,795.6 1011.3,794.3 1012.9,793.0 1014.4,791.7 1015.9,790.4 1017.5,789.1 1019.0,787.8 1020.6,786.6 1022.1,785.3 1023.6,784.0 1025.2,782.8 1026.7,781.5 1028.3,780.2 1029.9,779.0 1031.4,777.7 1033.0,776.5 1034.6,775.2 1036.1,774.0 1037.7,772.8 1039.3,771.6 1040.9,770.4 1042.5,769.2 1044.1,768.0 1045.7,766.8 1047.3,765.6 1048.9,764.5 1050.5,763.3 1052.1,762.2 1053.8,761.1 1055.4,759.9 1057.1,758.8 1058.7,757.7 1060.4,756.7 1062.1,755.6 1063.7,754.5 1065.4,753.5 1067.1,752.5 1068.8,751.5 1070.5,750.5 1072.3,749.5 1074.0,748.5 1075.8,747.6 1077.5,746.7 1079.3,745.8 1081.1,744.9 1082.9,744.0 1084.7,743.1 1086.5,742.3 1088.3,741.5 1090.1,740.6 1091.9,739.8 1093.8,739.1 1095.6,738.3 1097.5,737.6 1099.4,736.8 1101.2,736.1 1103.1,735.4 1105.0,734.7 1106.9,734.1 1108.8,733.4 1110.7,732.8 1112.7,732.2 1114.6,731.6 1116.5,731.0 1118.4,730.4 1120.4,729.9 1122.3,729.3 1124.3,728.8 1126.3,728.3 1128.2,727.8 1130.2,727.3 1132.2,726.9 1134.1,726.4 1136.1,726.0 1138.1,725.6 1140.1,725.2 1142.1,724.8 1144.1,724.4 1146.1,724.1 1148.1,723.7 1150.1,723.4 1152.1,723.1 1154.1,722.8 1156.1,722.5 1158.1,722.2 1160.2,722.0 1162.2,721.7 1164.2,721.5 1166.2,721.3 1168.2,721.1 1170.2,720.9 1172.3,720.7 1174.3,720.6 1176.3,720.5 1178.3,720.3 1180.4,720.2 1182.4,720.1 1184.4,720.0 1186.4,720.0 1188.4,719.9 1190.4,719.9 1192.5,719.8 1194.5,719.8 1196.5,719.8 1198.5,719.8 1200.5,719.8 1202.5,719.9 1204.5,719.9 1206.6,720.0 1208.6,720.1 1210.6,720.2 1212.6,720.3 1214.6,720.4 1216.6,720.6 1218.6,720.7 1220.6,720.9 1222.5,721.1 1224.5,721.2 1226.5,721.5 1228.5,721.7 1230.5,721.9 1232.5,722.2 1234.5,722.4 1236.4,722.7 1238.4,723.0 1240.4,723.3 1242.3,723.6 1244.3,724.0 1246.2,724.3 1248.2,724.7 1250.1,725.1 1252.1,725.5 1254.0,725.9 1256.0,726.3 1257.9,726.7 1259.8,727.2 1261.8,727.7 1263.7,728.1 1265.6,728.6 1267.5,729.1 1269.4,729.7 1271.3,730.2 1273.2,730.7 1275.1,731.3 1277.0,731.9 1278.9,732.5 1280.8,733.1 1282.6,733.7 1284.5,734.4 1286.4,735.0 1288.2,735.7 1290.1,736.4 1291.9,737.1 1293.8,737.8 1295.6,738.5 1297.4,739.2 1299.2,740.0 1301.1,740.8 1302.9,741.5 1304.7,742.3 1306.5,743.2 1308.2,744.0 1310.0,744.8 1311.8,745.7 1313.6,746.6 1315.3,747.4 1317.1,748.3 1318.8,749.3 1320.6,750.2 1322.3,751.1 1324.0,752.1 1325.7,753.1 1327.4,754.1 1329.1,755.1 1330.8,756.1 1332.5,757.1 1334.2,758.2 1335.9,759.2 1337.5,760.3 1339.2,761.4 1340.8,762.5 1342.4,763.6 1344.1,764.7 1345.7,765.9 1347.3,767.1 1348.9,768.2 1350.5,769.4 1352.1,770.6 1353.6,771.9 1355.2,773.1 1356.7,774.4 1358.3,775.6 1359.8,776.9 1361.4,778.2 1362.9,779.5 1364.4,780.8 1365.9,782.1 1367.4,783.5 1368.9,784.8 1370.3,786.2 1371.8,787.6 1373.2,788.9 1374.7,790.3 1376.1,791.7 1377.6,793.2 1379.0,794.6 1380.4,796.0 1381.8,797.5 1383.2,799.0 1384.6,800.4 1385.9,801.9 1387.3,803.4 1388.7,804.9 1390.0,806.4 1391.3,807.9 1392.7,809.5 1394.0,811.0 1395.3,812.6 1396.6,814.1 1397.9,815.7 1399.2,817.3 1400.5,818.8 1401.7,820.4 1403.0,822.0 1404.2,823.6 1405.5,825.2 1406.7,826.9 1407.9,828.5 1409.1,830.1 1410.3,831.8 1411.5,833.4 1412.7,835.1 1413.9,836.7 1415.0,838.4 1416.2,840.1 1417.3,841.7 1418.5,843.4 1419.6,845.1 1420.7,846.8 1421.8,848.5 1422.9,850.2 1424.0,851.9 1425.1,853.6 1426.2,855.4 1427.2,857.1 1428.3,858.8 1429.3,860.5 1430.4,862.3 1431.4,864.0 1432.4,865.7 1433.4,867.5 1434.4,869.2 1435.4,871.0 1436.4,872.7 1437.4,874.5 1438.3,876.2 1439.3,878.0 1440.2,879.8 1441.2,881.5 1442.1,883.3 1443.0,885.1 1443.9,886.9 1444.9,888.6 1445.7,890.4 1446.6,892.2 1447.5,894.0 1448.4,895.8 1449.3,897.6 1450.1,899.4 1451.0,901.2 1451.8,903.0 1452.7,904.8 1453.5,906.6 1454.3,908.4 1455.1,910.2 1455.9,912.1 1456.7,913.9 1457.5,915.7 1458.3,917.5 1459.1,919.3 1459.9,921.2 1460.7,923.0 1461.4,924.8 1462.2,926.7 1463.0,928.5 1463.7,930.3 1464.4,932.2 1465.2,934.0 1465.9,935.9 1466.6,937.7 1467.4,939.6 1468.1,941.4 1468.8,943.3 1469.5,945.1 1470.2,947.0 1470.9,948.9 1471.6,950.7 1472.2,952.6 1472.9,954.4 1473.6,956.3 1474.3,958.2 1474.9,960.1 1475.6,961.9 1476.3,963.8 1476.9,965.7 1477.6,967.5 1478.2,969.4 1478.8,971.3 1479.5,973.2 1480.1,975.1 1480.8,977.0 1481.4,978.8 1482.0,980.7 1482.6,982.6 1483.2,984.5 1483.9,986.4 1484.5,988.3 1485.1,990.2 1485.7,992.1 1486.3,994.0 1486.9,995.8 1487.5,997.7 1488.1,999.6 1488.7,1001.5 1489.2,1003.4 1489.8,1005.3 1490.4,1007.2 1491.0,1009.1 1491.5,1011.0 1492.1,1013.0 1492.7,1014.9 1493.3,1016.8 1493.8,1018.7 1494.4,1020.6 1494.9,1022.5 1495.5,1024.4 1496.0,1026.3 1496.6,1028.2 1497.1,1030.1 1497.7,1032.1 1498.2,1034.0 1498.7,1035.9 1499.3,1037.8 1499.8,1039.7 1500.3,1041.7 1500.8,1043.6 1501.4,1045.5 1501.9,1047.4 1502.4,1049.4 1502.9,1051.3 1503.4,1053.2 1503.9,1055.1 1504.4,1057.1 1504.9,1059.0 1505.4,1060.9 1505.9,1062.9 1506.4,1064.8 1506.9,1066.7 1507.4,1068.7 1507.9,1070.6 1508.4,1072.6 1508.9,1074.5 1509.3,1076.4 1509.8,1078.4 1510.3,1080.3 1510.7,1082.3 1511.2,1084.2 1511.7,1086.2 1512.1,1088.1 1512.6,1090.1 1513.1,1092.0 1513.5,1094.0 1514.0,1095.9 1514.4,1097.9 1514.9,1099.8 1515.3,1101.8 1515.7,1103.7 1516.2,1105.7 1516.6,1107.7 1517.1,1109.6 1517.5,1111.6 1517.9,1113.5 1518.3,1115.5 1518.8,1117.5 1519.2,1119.4 1519.6,1121.4 1520.0,1123.4 1520.4,1125.3 1520.9,1127.3 1521.3,1129.3 1521.7,1131.2 1522.1,1133.2 1522.5,1135.2 1522.9,1137.2 1523.3,1139.1 1523.7,1141.1 1524.1,1143.1 1524.5,1145.1 1524.9,1147.0 1525.2,1149.0 1525.6,1151.0 1526.0,1153.0 1526.4,1155.0 1526.8,1157.0 1527.2,1158.9 1527.5,1160.9 1527.9,1162.9 1528.3,1164.9 1528.6,1166.9 1529.0,1168.9 1529.4,1170.9 1529.7,1172.9 1530.1,1174.9 1530.4,1176.9 1530.8,1178.8 1531.2,1180.8 1531.5,1182.8 1531.9,1184.8 1532.2,1186.8 1532.6,1188.8 1532.9,1190.8 1533.2,1192.8 1533.6,1194.8 1533.9,1196.8 1534.3,1198.9 1534.6,1200.9 1534.9,1202.9 1535.3,1204.9 1535.6,1206.9 1535.9,1208.9 1536.2,1210.9 1536.6,1212.9 1536.9,1214.9 1537.2,1216.9 1537.5,1219.0 1537.8,1221.0 1538.2,1223.0 1538.5,1225.0 1538.8,1227.0 1539.1,1229.0 1539.4,1231.1 1539.7,1233.1 1540.0,1235.1 1540.4,1237.1 1540.7,1239.1 1541.0,1241.1 1541.3,1243.1 1541.7,1245.1 1542.0,1247.1 1542.4,1249.1 1542.7,1251.1 1543.1,1253.1 1543.5,1255.1 1543.9,1257.1 1544.3,1259.1 1544.7,1261.0 1545.1,1263.0 1545.5,1264.9 1546.0,1266.9 1546.4,1268.8 1546.9,1270.8 1547.4,1272.7 1547.9,1274.6 1548.4,1276.5 1549.0,1278.4 1549.6,1280.3 1550.1,1282.2 1550.7,1284.0 1551.4,1285.9 1552.0,1287.7 1552.7,1289.6 1553.3,1291.4 1554.1,1293.2 1554.8,1295.0 1555.5,1296.8 1556.3,1298.5 1557.1,1300.3 1558.0,1302.0 1558.8,1303.8 1559.7,1305.5 1560.6,1307.2 1561.6,1308.9 1562.6,1310.5 1563.6,1312.2 1564.6,1313.8 1565.7,1315.4 1566.8,1317.0 1568.0,1318.6 1569.1,1320.2 1570.3,1321.7 1571.6,1323.2 1572.9,1324.7 1574.2,1326.2 1575.5,1327.6 1576.9,1329.0 1578.4,1330.3 1579.8,1331.6 1581.3,1332.8 1582.9,1334.0 1584.4,1335.1 1586.0,1336.1 1587.7,1337.1 1589.4,1337.9 1591.1,1338.8 1592.9,1339.5 1594.7,1340.1 1596.5,1340.7 1598.4,1341.1 1600.3,1341.5 1602.3,1341.7 1604.3,1341.8 1606.3,1341.9 1608.4,1341.8 1610.5,1341.7 1612.6,1341.5 1614.7,1341.3 1616.8,1341.0 1619.0,1340.8 1621.1,1340.5 1623.2,1340.3 1625.3,1340.1 1627.4,1340.0 1629.4,1340.0 1631.4,1340.0 1633.4,1340.2 1635.3,1340.5 1637.1,1341.0 1638.9,1341.6 1640.6,1342.4 1642.3,1343.4 1643.8,1344.6 1645.3,1346.0 1646.7,1347.5 1648.1,1349.2 1649.4,1350.9 1650.7,1352.8 1652.0,1354.6 1653.2,1356.6 1654.4,1358.5 1655.7,1360.4 1656.9,1362.3 1658.1,1364.1 1659.3,1365.8 1660.6,1367.3 1661.9,1368.8 1663.2,1370.1 1664.6,1371.2 1666.1,1372.0" fill="none" stroke="#e6a428" stroke-width="6.0" stroke-linejoin="round" stroke-linecap="round"/>
<path d="M329.0,1361.5L359.0,1361.5L344.0,1388.5Z" fill="#e6a428"/>
<path d="M347.0,1308.5L377.0,1308.5L362.0,1335.5Z" fill="#e6a428"/>
<path d="M381.0,1128.5L411.0,1128.5L396.0,1155.5Z" fill="#e6a428"/>
<path d="M404.1,1087.5L434.1,1087.5L419.1,1114.5Z" fill="#e6a428"/>
<path d="M441.0,1064.5L471.0,1064.5L456.0,1091.5Z" fill="#e6a428"/>
<path d="M487.8,1007.9L517.8,1007.9L502.8,1034.9Z" fill="#e6a428"/>
<path d="M588.3,1006.8L618.3,1006.8L603.3,1033.8Z" fill="#e6a428"/>
<path d="M637.5,955.2L667.5,955.2L652.5,982.2Z" fill="#e6a428"/>
<path d="M723.4,907.9L753.4,907.9L738.4,934.9Z" fill="#e6a428"/>
<path d="M800.7,885.4L830.7,885.4L815.7,912.4Z" fill="#e6a428"/>
<path d="M859.4,872.2L889.4,872.2L874.4,899.2Z" fill="#e6a428"/>
<path d="M949.4,835.2L979.4,835.2L964.4,862.2Z" fill="#e6a428"/>
<path d="M1067.3,720.6L1097.3,720.6L1082.3,747.6Z" fill="#e6a428"/>
<path d="M1209.8,703.5L1239.8,703.5L1224.8,730.5Z" fill="#e6a428"/>
<path d="M1331.5,730.8L1361.5,730.8L1346.5,757.8Z" fill="#e6a428"/>
<path d="M1473.0,937.4L1503.0,937.4L1488.0,964.4Z" fill="#e6a428"/>
<path d="M1532.5,1244.5L1562.5,1244.5L1547.5,1271.5Z" fill="#e6a428"/>
<path d="M1548.0,1308.5L1578.0,1308.5L1563.0,1335.5Z" fill="#e6a428"/>
<path d="M1567.6,1330.4L1597.6,1330.4L1582.6,1357.4Z" fill="#e6a428"/>
<path d="M1586.8,1333.7L1616.8,1333.7L1601.8,1360.7Z" fill="#e6a428"/>
<path d="M1619.5,1327.0L1649.5,1327.0L1634.5,1354.0Z" fill="#e6a428"/>
<path d="M1653.3,1361.9L1683.3,1361.9L1668.3,1388.9Z" fill="#e6a428"/>
<path d="M347.3,1384.3 347.4,1382.2 347.4,1380.1 347.5,1378.0 347.6,1376.0 347.7,1373.9 347.8,1371.8 347.9,1369.8 348.1,1367.8 348.3,1365.7 348.5,1363.7 348.7,1361.7 348.9,1359.7 349.1,1357.7 349.4,1355.6 349.7,1353.7 349.9,1351.7 350.2,1349.7 350.6,1347.7 350.9,1345.7 351.2,1343.7 351.6,1341.8 352.0,1339.8 352.3,1337.9 352.7,1335.9 353.1,1334.0 353.6,1332.0 354.0,1330.1 354.4,1328.1 354.9,1326.2 355.3,1324.3 355.8,1322.4 356.3,1320.4 356.8,1318.5 357.3,1316.6 357.8,1314.7 358.3,1312.8 358.9,1310.9 359.4,1309.0 359.9,1307.1 360.5,1305.2 361.1,1303.3 361.6,1301.4 362.2,1299.5 362.8,1297.6 363.4,1295.7 363.9,1293.8 364.5,1291.9 365.1,1290.0 365.8,1288.1 366.4,1286.2 367.0,1284.4 367.6,1282.5 368.2,1280.6 368.9,1278.7 369.5,1276.8 370.1,1274.9 370.7,1273.0 371.4,1271.1 372.0,1269.2 372.7,1267.4 373.3,1265.5 373.9,1263.6 374.6,1261.7 375.2,1259.8 375.9,1257.9 376.5,1256.0 377.2,1254.1 377.8,1252.2 378.4,1250.3 379.1,1248.4 379.7,1246.4 380.4,1244.5 381.0,1242.6 381.6,1240.7 382.3,1238.8 382.9,1236.9 383.5,1235.0 384.2,1233.0 384.8,1231.1 385.5,1229.2 386.1,1227.3 386.8,1225.4 387.4,1223.5 388.1,1221.5 388.7,1219.6 389.4,1217.7 390.0,1215.8 390.7,1213.9 391.3,1212.0 392.0,1210.1 392.7,1208.2 393.3,1206.3 394.0,1204.4 394.7,1202.5 395.4,1200.6 396.1,1198.7 396.8,1196.8 397.5,1194.9 398.2,1193.0 398.9,1191.1 399.6,1189.2 400.3,1187.4 401.0,1185.5 401.7,1183.6 402.5,1181.8 403.2,1179.9 404.0,1178.0 404.7,1176.2 405.5,1174.3 406.2,1172.5 407.0,1170.7 407.8,1168.8 408.6,1167.0 409.3,1165.2 410.1,1163.4 411.0,1161.6 411.8,1159.8 412.6,1158.0 413.4,1156.2 414.3,1154.4 415.1,1152.7 416.0,1150.9 416.8,1149.1 417.7,1147.4 418.6,1145.6 419.5,1143.9 420.4,1142.2 421.3,1140.5 422.3,1138.8 423.2,1137.1 424.1,1135.4 425.1,1133.7 426.1,1132.0 427.0,1130.3 428.0,1128.7 429.0,1127.0 430.0,1125.4 431.1,1123.8 432.1,1122.2 433.2,1120.6 434.3,1119.0 435.4,1117.4 436.5,1115.9 437.7,1114.3 438.8,1112.8 440.1,1111.3 441.3,1109.8 442.5,1108.4 443.8,1106.9 445.2,1105.5 446.5,1104.1 447.9,1102.7 449.3,1101.4 450.8,1100.1 452.3,1098.8 453.9,1097.5 455.4,1096.2 457.0,1095.0 458.7,1093.8 460.3,1092.6 462.0,1091.4 463.6,1090.1 465.3,1088.9 466.9,1087.7 468.5,1086.5 470.1,1085.2 471.7,1084.0 473.3,1082.7 474.8,1081.4 476.3,1080.1 477.8,1078.7 479.3,1077.4 480.7,1076.0 482.1,1074.6 483.5,1073.2 484.9,1071.8 486.3,1070.4 487.7,1068.9 489.0,1067.5 490.3,1066.0 491.6,1064.5 492.9,1063.0 494.2,1061.5 495.5,1060.0 496.8,1058.5 498.0,1056.9 499.3,1055.4 500.5,1053.8 501.7,1052.3 502.9,1050.7 504.1,1049.1 505.3,1047.6 506.5,1046.0 507.7,1044.4 508.9,1042.8 510.1,1041.2 511.3,1039.6 512.5,1038.0 513.7,1036.4 514.9,1034.8 516.0,1033.2 517.2,1031.5 518.4,1029.9 519.6,1028.3 520.8,1026.7 522.0,1025.0 523.2,1023.4 524.3,1021.8 525.5,1020.2 526.7,1018.5 527.9,1016.9 529.1,1015.3 530.3,1013.7 531.5,1012.0 532.7,1010.4 533.9,1008.8 535.1,1007.2 536.3,1005.5 537.5,1003.9 538.7,1002.3 539.9,1000.7 541.2,999.1 542.4,997.5 543.6,995.9 544.8,994.2 546.1,992.6 547.3,991.0 548.5,989.4 549.8,987.9 551.0,986.3 552.3,984.7 553.5,983.1 554.8,981.5 556.1,979.9 557.3,978.4 558.6,976.8 559.9,975.3 561.2,973.7 562.4,972.2 563.7,970.6 565.0,969.1 566.3,967.6 567.7,966.0 569.0,964.5 570.3,963.0 571.6,961.5 573.0,960.0 574.3,958.6 575.7,957.1 577.0,955.6 578.4,954.2 579.7,952.7 581.1,951.3 582.5,949.8 583.9,948.4 585.3,947.0 586.7,945.6 588.1,944.2 589.5,942.8 591.0,941.4 592.4,940.1 593.9,938.7 595.3,937.4 596.8,936.0 598.3,934.7 599.7,933.4 601.2,932.1 602.7,930.8 604.2,929.6 605.8,928.3 607.3,927.1 608.8,925.8 610.4,924.6 612.0,923.4 613.5,922.2 615.1,921.0 616.7,919.8 618.3,918.7 619.9,917.6 621.5,916.4 623.2,915.3 624.8,914.2 626.5,913.1 628.1,912.1 629.8,911.0 631.5,910.0 633.2,908.9 634.9,907.9 636.6,906.9 638.3,905.9 640.0,904.9 641.8,903.9 643.5,903.0 645.3,902.0 647.0,901.1 648.8,900.2 650.6,899.3 652.3,898.4 654.1,897.5 655.9,896.6 657.7,895.7 659.5,894.8 661.4,894.0 663.2,893.1 665.0,892.3 666.8,891.5 668.7,890.7 670.5,889.9 672.4,889.1 674.2,888.3 676.1,887.5 677.9,886.7 679.8,886.0 681.7,885.2 683.6,884.5 685.4,883.7 687.3,883.0 689.2,882.3 691.1,881.6 693.0,880.9 694.9,880.2 696.8,879.5 698.7,878.8 700.6,878.1 702.5,877.4 704.5,876.8 706.4,876.1 708.3,875.4 710.2,874.8 712.1,874.1 714.1,873.5 716.0,872.9 717.9,872.2 719.8,871.6 721.8,871.0 723.7,870.4 725.6,869.8 727.6,869.1 729.5,868.5 731.4,867.9 733.3,867.3 735.3,866.8 737.2,866.2 739.1,865.6 741.1,865.0 743.0,864.4 744.9,863.8 746.8,863.3 748.8,862.7 750.7,862.1 752.6,861.6 754.5,861.0 756.4,860.4 758.4,859.9 760.3,859.3 762.2,858.8 764.1,858.3 766.0,857.7 768.0,857.2 769.9,856.7 771.8,856.1 773.7,855.6 775.6,855.1 777.6,854.6 779.5,854.1 781.4,853.6 783.3,853.1 785.3,852.6 787.2,852.1 789.1,851.7 791.0,851.2 793.0,850.7 794.9,850.3 796.8,849.8 798.7,849.4 800.7,848.9 802.6,848.5 804.5,848.1 806.5,847.6 808.4,847.2 810.3,846.8 812.3,846.4 814.2,846.0 816.1,845.6 818.1,845.3 820.0,844.9 822.0,844.5 823.9,844.2 825.9,843.8 827.8,843.5 829.8,843.2 831.7,842.8 833.7,842.5 835.7,842.2 837.6,841.9 839.6,841.6 841.6,841.3 843.5,841.1 845.5,840.8 847.5,840.6 849.5,840.3 851.4,840.1 853.4,839.8 855.4,839.6 857.4,839.4 859.4,839.2 861.4,839.0 863.4,838.9 865.4,838.7 867.4,838.5 869.4,838.4 871.4,838.2 873.5,838.1 875.5,838.0 877.5,837.9 879.5,837.8 881.6,837.7 883.6,837.6 885.6,837.6 887.7,837.5 889.7,837.5 891.8,837.4 893.8,837.3 895.8,837.2 897.9,837.1 899.9,837.0 901.9,836.8 903.9,836.6 905.9,836.4 907.8,836.2 909.8,835.9 911.8,835.5 913.7,835.2 915.6,834.7 917.5,834.2 919.4,833.7 921.2,833.1 923.1,832.4 924.9,831.7 926.6,830.8 928.4,830.0 930.1,829.0 931.8,828.0 933.5,827.0 935.1,825.9 936.8,824.8 938.4,823.6 939.9,822.4 941.5,821.2 943.0,819.9 944.4,818.6 945.9,817.3 947.3,816.0 948.7,814.6 950.1,813.2 951.5,811.8 952.8,810.3 954.2,808.8 955.5,807.3 956.7,805.8 958.0,804.3 959.3,802.7 960.5,801.2 961.7,799.6 962.9,798.0 964.1,796.4 965.3,794.8 966.5,793.1 967.7,791.5 968.8,789.8 970.0,788.2 971.1,786.5 972.3,784.9 973.4,783.2 974.6,781.5 975.7,779.8 976.8,778.1 978.0,776.5 979.1,774.8 980.2,773.1 981.4,771.4 982.5,769.8 983.7,768.1 984.8,766.4 985.9,764.8 987.1,763.1 988.3,761.5 989.4,759.8 990.6,758.2 991.7,756.5 992.9,754.9 994.1,753.3 995.2,751.7 996.4,750.0 997.6,748.4 998.8,746.8 1000.0,745.2 1001.2,743.6 1002.4,742.0 1003.6,740.4 1004.8,738.8 1006.0,737.2 1007.2,735.6 1008.4,734.0 1009.6,732.4 1010.9,730.8 1012.1,729.3 1013.3,727.7 1014.6,726.1 1015.8,724.6 1017.1,723.0 1018.3,721.5 1019.6,719.9 1020.8,718.4 1022.1,716.9 1023.4,715.3 1024.7,713.8 1025.9,712.3 1027.2,710.8 1028.5,709.3 1029.8,707.8 1031.1,706.3 1032.5,704.8 1033.8,703.3 1035.1,701.8 1036.4,700.3 1037.8,698.8 1039.1,697.4 1040.5,695.9 1041.8,694.4 1043.2,693.0 1044.6,691.5 1045.9,690.1 1047.3,688.7 1048.7,687.2 1050.1,685.8 1051.5,684.4 1052.9,683.0 1054.3,681.6 1055.8,680.1 1057.2,678.8 1058.6,677.4 1060.1,676.0 1061.5,674.6 1063.0,673.2 1064.5,671.9 1065.9,670.5 1067.4,669.1 1068.9,667.8 1070.4,666.4 1071.9,665.1 1073.4,663.8 1075.0,662.4 1076.5,661.1 1078.0,659.8 1079.6,658.5 1081.1,657.2 1082.7,655.9 1084.3,654.7 1085.9,653.5 1087.5,652.3 1089.1,651.1 1090.7,650.0 1092.4,649.0 1094.0,647.9 1095.7,647.0 1097.4,646.1 1099.1,645.2 1100.8,644.5 1102.5,643.7 1104.3,643.1 1106.1,642.6 1107.9,642.1 1109.7,641.8 1111.5,641.5 1113.4,641.3 1115.2,641.2 1117.1,641.3 1119.1,641.4 1121.0,641.6 1122.9,641.9 1124.9,642.3 1126.9,642.7 1128.9,643.2 1130.9,643.8 1132.9,644.4 1135.0,645.0 1137.0,645.7 1139.1,646.4 1141.1,647.1 1143.2,647.9 1145.2,648.6 1147.2,649.4 1149.3,650.1 1151.3,650.8 1153.3,651.4 1155.3,652.1 1157.3,652.7 1159.3,653.2 1161.3,653.7 1163.2,654.1 1165.1,654.4 1167.0,654.6 1168.9,654.8 1170.7,654.9 1172.5,654.8 1174.3,654.6 1176.0,654.4 1177.7,653.9 1179.4,653.4 1181.0,652.8 1182.6,652.1 1184.1,651.2 1185.6,650.2 1187.1,649.2 1188.5,648.0 1189.9,646.8 1191.2,645.5 1192.6,644.0 1193.8,642.5 1195.1,641.0 1196.3,639.4 1197.6,637.7 1198.8,636.0 1200.0,634.3 1201.1,632.5 1202.3,630.7 1203.5,628.8 1204.7,627.0 1205.8,625.2 1207.0,623.3 1208.2,621.5 1209.4,619.7 1210.6,617.9 1211.9,616.1 1213.2,614.4 1214.5,612.7 1215.8,611.0 1217.1,609.5 1218.5,607.9 1220.0,606.5 1221.5,605.1 1223.0,603.8 1224.5,602.6 1226.1,601.4 1227.7,600.3 1229.4,599.3 1231.1,598.4 1232.8,597.6 1234.5,596.8 1236.3,596.1 1238.0,595.5 1239.8,595.0 1241.6,594.6 1243.4,594.3 1245.2,594.0 1247.1,593.9 1248.9,593.8 1250.7,593.8 1252.6,593.9 1254.4,594.1 1256.3,594.4 1258.1,594.8 1259.9,595.3 1261.8,595.8 1263.6,596.4 1265.4,597.1 1267.2,597.8 1269.1,598.6 1270.9,599.5 1272.7,600.4 1274.5,601.4 1276.3,602.4 1278.1,603.5 1279.9,604.5 1281.7,605.7 1283.5,606.8 1285.2,608.0 1287.0,609.2 1288.8,610.4 1290.5,611.6 1292.3,612.9 1294.0,614.1 1295.7,615.3 1297.4,616.6 1299.1,617.8 1300.8,619.0 1302.5,620.3 1304.2,621.5 1305.9,622.7 1307.5,623.9 1309.2,625.1 1310.8,626.4 1312.4,627.6 1313.9,628.8 1315.5,630.1 1317.0,631.4 1318.6,632.6 1320.0,633.9 1321.5,635.2 1323.0,636.5 1324.4,637.9 1325.8,639.2 1327.1,640.6 1328.5,642.0 1329.8,643.4 1331.0,644.8 1332.3,646.3 1333.4,647.8 1334.6,649.3 1335.7,650.8 1336.8,652.4 1337.9,654.0 1338.9,655.6 1339.8,657.2 1340.7,658.9 1341.6,660.6 1342.4,662.3 1343.2,664.1 1344.0,665.9 1344.7,667.7 1345.3,669.6 1346.0,671.4 1346.6,673.3 1347.2,675.2 1347.8,677.1 1348.4,679.0 1348.9,680.9 1349.5,682.9 1350.1,684.8 1350.6,686.7 1351.2,688.6 1351.7,690.6 1352.3,692.5 1352.8,694.4 1353.3,696.4 1353.9,698.3 1354.4,700.2 1354.9,702.2 1355.4,704.1 1356.0,706.1 1356.5,708.0 1357.0,710.0 1357.5,711.9 1358.0,713.8 1358.5,715.8 1359.0,717.7 1359.5,719.7 1360.0,721.7 1360.5,723.6 1360.9,725.6 1361.4,727.5 1361.9,729.5 1362.4,731.4 1362.8,733.4 1363.3,735.4 1363.7,737.3 1364.2,739.3 1364.7,741.2 1365.1,743.2 1365.5,745.2 1366.0,747.1 1366.4,749.1 1366.9,751.1 1367.3,753.0 1367.7,755.0 1368.1,757.0 1368.6,758.9 1369.0,760.9 1369.4,762.9 1369.8,764.9 1370.2,766.8 1370.6,768.8 1371.0,770.8 1371.4,772.7 1371.8,774.7 1372.2,776.7 1372.6,778.7 1373.0,780.6 1373.4,782.6 1373.8,784.6 1374.1,786.6 1374.5,788.5 1374.9,790.5 1375.2,792.5 1375.6,794.5 1376.0,796.4 1376.3,798.4 1376.7,800.4 1377.0,802.4 1377.4,804.3 1377.7,806.3 1378.1,808.3 1378.4,810.2 1378.7,812.2 1379.1,814.2 1379.4,816.2 1379.7,818.1 1380.1,820.1 1380.4,822.1 1380.7,824.0 1381.0,826.0 1381.3,828.0 1381.6,830.0 1381.9,831.9 1382.3,833.9 1382.6,835.9 1382.9,837.8 1383.2,839.8 1383.5,841.8 1383.7,843.7 1384.0,845.7 1384.3,847.6 1384.6,849.6 1384.9,851.6 1385.2,853.5 1385.5,855.5 1385.8,857.5 1386.1,859.4 1386.4,861.4 1386.7,863.4 1387.0,865.3 1387.3,867.3 1387.5,869.3 1387.8,871.2 1388.1,873.2 1388.4,875.2 1388.7,877.1 1389.0,879.1 1389.3,881.1 1389.6,883.0 1389.9,885.0 1390.2,887.0 1390.6,888.9 1390.9,890.9 1391.2,892.9 1391.5,894.8 1391.8,896.8 1392.1,898.8 1392.5,900.7 1392.8,902.7 1393.1,904.7 1393.5,906.7 1393.8,908.6 1394.1,910.6 1394.5,912.6 1394.8,914.6 1395.1,916.5 1395.5,918.5 1395.8,920.5 1396.2,922.5 1396.5,924.4 1396.9,926.4 1397.2,928.4 1397.6,930.4 1397.9,932.3 1398.3,934.3 1398.6,936.3 1399.0,938.3 1399.4,940.2 1399.7,942.2 1400.1,944.2 1400.5,946.2 1400.8,948.2 1401.2,950.1 1401.6,952.1 1401.9,954.1 1402.3,956.1 1402.7,958.0 1403.1,960.0 1403.5,962.0 1403.8,964.0 1404.2,966.0 1404.6,967.9 1405.0,969.9 1405.4,971.9 1405.8,973.9 1406.2,975.8 1406.5,977.8 1406.9,979.8 1407.3,981.8 1407.7,983.7 1408.1,985.7 1408.5,987.7 1408.9,989.7 1409.3,991.6 1409.7,993.6 1410.1,995.6 1410.5,997.6 1410.9,999.5 1411.3,1001.5 1411.7,1003.5 1412.2,1005.4 1412.6,1007.4 1413.0,1009.4 1413.4,1011.4 1413.8,1013.3 1414.2,1015.3 1414.6,1017.3 1415.0,1019.2 1415.4,1021.2 1415.9,1023.2 1416.3,1025.1 1416.7,1027.1 1417.1,1029.1 1417.5,1031.0 1417.9,1033.0 1418.4,1035.0 1418.8,1036.9 1419.2,1038.9 1419.6,1040.9 1420.1,1042.8 1420.5,1044.8 1420.9,1046.7 1421.3,1048.7 1421.7,1050.7 1422.2,1052.6 1422.6,1054.6 1423.0,1056.5 1423.5,1058.5 1423.9,1060.4 1424.3,1062.4 1424.7,1064.3 1425.2,1066.3 1425.6,1068.2 1426.0,1070.2 1426.5,1072.1 1426.9,1074.1 1427.3,1076.0 1427.7,1078.0 1428.2,1079.9 1428.6,1081.9 1429.0,1083.8 1429.5,1085.8 1429.9,1087.7 1430.3,1089.6 1430.8,1091.6 1431.2,1093.5 1431.6,1095.5 1432.0,1097.4 1432.5,1099.3 1432.9,1101.3 1433.3,1103.2 1433.8,1105.1 1434.2,1107.1 1434.6,1109.0 1435.1,1110.9 1435.5,1112.8 1435.9,1114.8 1436.4,1116.7 1436.8,1118.6 1437.2,1120.5 1437.6,1122.5 1438.1,1124.4 1438.5,1126.3 1438.9,1128.2 1439.4,1130.1 1439.8,1132.0 1440.2,1133.9 1440.6,1135.9 1441.1,1137.8 1441.5,1139.7 1441.9,1141.6 1442.3,1143.5 1442.8,1145.4 1443.2,1147.3 1443.6,1149.2 1444.0,1151.1 1444.5,1153.0 1444.9,1154.9 1445.3,1156.9 1445.7,1158.8 1446.1,1160.7 1446.6,1162.6 1447.0,1164.5 1447.4,1166.4 1447.8,1168.3 1448.2,1170.3 1448.7,1172.2 1449.1,1174.1 1449.5,1176.0 1449.9,1178.0 1450.3,1179.9 1450.7,1181.8 1451.1,1183.8 1451.5,1185.7 1451.9,1187.7 1452.4,1189.6 1452.8,1191.6 1453.2,1193.5 1453.6,1195.5 1454.0,1197.4 1454.4,1199.4 1454.8,1201.4 1455.2,1203.4 1455.6,1205.3 1456.0,1207.3 1456.4,1209.3 1456.8,1211.3 1457.2,1213.3 1457.6,1215.3 1457.9,1217.4 1458.3,1219.4 1458.7,1221.4 1459.1,1223.4 1459.5,1225.5 1459.9,1227.5 1460.3,1229.6 1460.7,1231.6 1461.0,1233.7 1461.4,1235.8 1461.8,1237.9 1462.2,1240.0 1462.6,1242.0 1462.9,1244.2 1463.3,1246.3 1463.7,1248.4 1464.0,1250.5 1464.4,1252.7 1464.8,1254.8 1465.1,1257.0 1465.5,1259.1 1465.9,1261.3 1466.2,1263.5 1466.6,1265.7 1467.0,1267.9 1467.3,1270.0 1467.7,1272.2 1468.1,1274.4 1468.6,1276.5 1469.0,1278.6 1469.5,1280.7 1470.0,1282.8 1470.5,1284.8 1471.1,1286.8 1471.7,1288.7 1472.4,1290.5 1473.1,1292.4 1473.8,1294.1 1474.7,1295.8 1475.5,1297.4 1476.5,1298.9 1477.5,1300.4 1478.5,1301.7 1479.7,1303.0 1480.9,1304.2 1482.1,1305.3 1483.5,1306.3 1484.8,1307.3 1486.3,1308.2 1487.8,1309.0 1489.3,1309.7 1490.9,1310.3 1492.6,1310.9 1494.2,1311.4 1496.0,1311.9 1497.7,1312.3 1499.5,1312.6 1501.4,1312.8 1503.2,1313.1 1505.1,1313.2 1507.0,1313.3 1509.0,1313.3 1510.9,1313.3 1512.9,1313.3 1514.9,1313.2 1516.9,1313.0 1518.9,1312.8 1521.0,1312.6 1523.0,1312.3 1525.1,1312.0 1527.1,1311.7 1529.1,1311.3 1531.2,1310.9 1533.2,1310.4 1535.2,1310.0 1537.3,1309.5 1539.3,1308.9 1541.2,1308.4 1543.2,1307.8 1545.2,1307.2 1547.2,1306.6 1549.1,1306.0 1551.0,1305.3 1553.0,1304.7 1554.9,1304.0 1556.8,1303.3 1558.7,1302.5 1560.6,1301.8 1562.5,1301.0 1564.4,1300.3 1566.3,1299.5 1568.1,1298.7 1570.0,1297.9 1571.8,1297.0 1573.7,1296.2 1575.5,1295.3 1577.3,1294.5 1579.2,1293.6 1581.0,1292.7 1582.8,1291.8 1584.6,1290.9 1586.4,1290.0 1588.2,1289.1 1590.1,1288.2 1591.9,1287.3 1593.6,1286.4 1595.4,1285.4 1597.2,1284.5 1599.0,1283.6 1600.8,1282.7 1602.6,1281.7 1604.4,1280.8 1606.2,1279.9 1607.9,1278.9 1609.7,1278.0 1611.5,1277.1 1613.3,1276.2 1615.1,1275.3 1616.8,1274.4 1618.6,1273.5 1620.4,1272.6 1622.2,1271.7 1624.0,1270.8 1625.8,1269.9 1627.6,1269.1 1629.4,1268.2 1631.1,1267.4 1632.9,1266.6 1634.8,1265.8 1636.6,1265.0 1638.4,1264.2 1640.2,1263.4 1642.0,1262.7 1643.8,1261.9 1645.7,1261.2 1647.5,1260.5 1649.3,1259.8 1651.2,1259.2 1653.0,1258.5 1654.9,1257.9 1656.8,1257.3 1658.6,1256.7 1660.5,1256.2 1662.4,1255.6 1664.3,1255.1 1666.2,1254.7 1668.1,1254.2 1670.1,1253.8 1672.0,1253.4 1673.9,1253.0 1675.9,1252.7 1677.8,1252.3 1679.8,1252.0 1681.8,1251.8 1683.8,1251.5 1685.8,1251.3 1687.8,1251.1 1689.8,1250.9 1691.8,1250.8 1693.8,1250.7 1695.8,1250.6 1697.8,1250.5 1699.9,1250.4 1701.9,1250.3 1703.9,1250.3 1706.0,1250.3 1708.0,1250.3 1710.1,1250.3 1712.1,1250.4 1714.2,1250.4 1716.2,1250.5 1718.3,1250.5 1720.3,1250.6 1722.4,1250.7 1724.5,1250.9 1726.5,1251.0 1728.6,1251.1 1730.6,1251.3 1732.7,1251.4 1734.7,1251.6 1736.8,1251.8 1738.8,1251.9 1740.9,1252.1 1742.9,1252.3 1744.9,1252.5 1747.0,1252.7 1749.0,1252.9 1751.0,1253.1 1753.0,1253.3 1755.0,1253.5 1757.0,1253.8 1759.0,1254.0 1761.0,1254.2 1763.0,1254.4 1765.0,1254.6 1767.0,1254.8 1768.9,1255.0 1770.9,1255.2 1772.8,1255.4 1774.7,1255.6 1776.7,1255.8 1778.6,1256.0 1780.5,1256.2 1782.4,1256.3 1784.3,1256.5 1786.1,1256.7 1788.0,1256.8 1789.8,1256.9" fill="none" stroke="#0000ff" stroke-width="6.0" stroke-linejoin="round" stroke-linecap="round"/>
<path d="M332.0,1344.5L362.0,1344.5L347.0,1371.5Z" fill="#0000ff"/>
<path d="M343.0,1358.5L373.0,1358.5L358.0,1385.5Z" fill="#0000ff"/>
<path d="M410.5,1104.0L440.5,1104.0L425.5,1131.0Z" fill="#0000ff"/>
<path d="M482.0,1036.5L512.0,1036.5L497.0,1063.5Z" fill="#0000ff"/>
<path d="M534.1,969.4L564.1,969.4L549.1,996.4Z" fill="#0000ff"/>
<path d="M602.0,890.5L632.0,890.5L617.0,917.5Z" fill="#0000ff"/>
<path d="M756.9,846.8L786.9,846.8L771.9,873.8Z" fill="#0000ff"/>
<path d="M847.9,828.3L877.9,828.3L862.9,855.3Z" fill="#0000ff"/>
<path d="M905.6,830.6L935.6,830.6L920.6,857.6Z" fill="#0000ff"/>
<path d="M949.4,789.1L979.4,789.1L964.4,816.1Z" fill="#0000ff"/>
<path d="M974.1,742.0L1004.1,742.0L989.1,769.0Z" fill="#0000ff"/>
<path d="M1011.0,705.1L1041.0,705.1L1026.0,732.1Z" fill="#0000ff"/>
<path d="M1069.0,623.5L1099.0,623.5L1084.0,650.5Z" fill="#0000ff"/>
<path d="M1117.8,628.0L1147.8,628.0L1132.8,655.0Z" fill="#0000ff"/>
<path d="M1174.1,666.3L1204.1,666.3L1189.1,693.3Z" fill="#0000ff"/>
<path d="M1219.4,555.5L1249.4,555.5L1234.4,582.5Z" fill="#0000ff"/>
<path d="M1316.5,623.5L1346.5,623.5L1331.5,650.5Z" fill="#0000ff"/>
<path d="M1341.7,675.5L1371.7,675.5L1356.7,702.5Z" fill="#0000ff"/>
<path d="M1409.0,1035.5L1439.0,1035.5L1424.0,1062.5Z" fill="#0000ff"/>
<path d="M1468.0,1316.5L1498.0,1316.5L1483.0,1343.5Z" fill="#0000ff"/>
<path d="M1529.0,1303.5L1559.0,1303.5L1544.0,1330.5Z" fill="#0000ff"/>
<path d="M1647.0,1242.9L1677.0,1242.9L1662.0,1269.9Z" fill="#0000ff"/>
<path d="M1711.0,1236.5L1741.0,1236.5L1726.0,1263.5Z" fill="#0000ff"/>
<path d="M1775.7,1248.0L1805.7,1248.0L1790.7,1275.0Z" fill="#0000ff"/>
<path d="M345.8,1384.0 345.9,1382.0 346.1,1380.0 346.2,1378.0 346.3,1376.0 346.4,1374.0 346.5,1372.0 346.6,1370.0 346.8,1368.0 346.9,1366.0 347.0,1364.0 347.1,1362.0 347.3,1360.0 347.4,1358.0 347.5,1356.0 347.6,1354.0 347.8,1352.0 347.9,1350.0 348.0,1348.0 348.2,1346.0 348.3,1344.0 348.4,1342.0 348.6,1340.0 348.7,1338.0 348.8,1336.0 349.0,1334.0 349.1,1332.0 349.3,1330.0 349.4,1328.0 349.6,1326.0 349.7,1324.0 349.9,1322.0 350.0,1320.0 350.2,1318.0 350.4,1316.0 350.5,1314.0 350.7,1312.1 350.8,1310.1 351.0,1308.1 351.2,1306.1 351.4,1304.1 351.5,1302.1 351.7,1300.1 351.9,1298.1 352.1,1296.1 352.3,1294.1 352.5,1292.1 352.7,1290.2 352.9,1288.2 353.1,1286.2 353.3,1284.2 353.5,1282.2 353.7,1280.2 353.9,1278.2 354.1,1276.2 354.3,1274.3 354.6,1272.3 354.8,1270.3 355.0,1268.3 355.3,1266.3 355.5,1264.3 355.7,1262.3 356.0,1260.3 356.2,1258.4 356.5,1256.4 356.8,1254.4 357.0,1252.4 357.3,1250.4 357.6,1248.4 357.8,1246.4 358.1,1244.5 358.4,1242.5 358.7,1240.5 359.0,1238.5 359.3,1236.5 359.6,1234.5 359.9,1232.6 360.2,1230.6 360.5,1228.6 360.8,1226.6 361.1,1224.6 361.5,1222.6 361.8,1220.6 362.1,1218.7 362.5,1216.7 362.8,1214.7 363.2,1212.7 363.5,1210.7 363.9,1208.7 364.3,1206.8 364.7,1204.8 365.0,1202.8 365.4,1200.8 365.8,1198.8 366.2,1196.8 366.6,1194.9 367.0,1192.9 367.4,1190.9 367.9,1188.9 368.3,1186.9 368.7,1185.0 369.2,1183.0 369.7,1181.0 370.1,1179.1 370.6,1177.1 371.2,1175.2 371.7,1173.3 372.2,1171.3 372.8,1169.4 373.4,1167.5 374.0,1165.6 374.6,1163.7 375.3,1161.9 375.9,1160.0 376.6,1158.2 377.4,1156.4 378.1,1154.6 378.9,1152.8 379.7,1151.0 380.6,1149.3 381.4,1147.6 382.3,1145.9 383.3,1144.2 384.2,1142.5 385.2,1140.9 386.3,1139.3 387.4,1137.7 388.5,1136.1 389.6,1134.6 390.8,1133.1 392.1,1131.6 393.4,1130.2 394.7,1128.7 396.1,1127.3 397.5,1126.0 398.9,1124.7 400.5,1123.4 402.0,1122.1 403.6,1120.9 405.3,1119.7 407.0,1118.5 408.8,1117.4 410.5,1116.3 412.4,1115.2 414.2,1114.1 416.0,1113.1 417.8,1112.0 419.6,1110.9 421.4,1109.7 423.1,1108.6 424.8,1107.4 426.5,1106.1 428.0,1104.8 429.5,1103.5 431.0,1102.0 432.3,1100.5 433.5,1099.0 434.7,1097.3 435.7,1095.6 436.8,1093.9 437.8,1092.1 438.7,1090.3 439.6,1088.5 440.6,1086.7 441.5,1084.9 442.4,1083.1 443.4,1081.3 444.5,1079.6 445.5,1077.9 446.6,1076.2 447.8,1074.6 449.0,1073.0 450.2,1071.4 451.4,1069.9 452.7,1068.4 454.0,1066.9 455.4,1065.5 456.8,1064.0 458.2,1062.7 459.6,1061.3 461.1,1059.9 462.6,1058.6 464.1,1057.3 465.6,1056.1 467.2,1054.8 468.7,1053.6 470.3,1052.4 471.9,1051.2 473.5,1050.0 475.1,1048.8 476.8,1047.7 478.4,1046.6 480.1,1045.4 481.8,1044.3 483.4,1043.2 485.1,1042.2 486.8,1041.1 488.5,1040.0 490.2,1039.0 492.0,1037.9 493.7,1036.9 495.4,1035.8 497.1,1034.8 498.9,1033.8 500.6,1032.7 502.3,1031.7 504.1,1030.7 505.8,1029.7 507.5,1028.7 509.3,1027.6 511.0,1026.6 512.7,1025.6 514.4,1024.5 516.2,1023.5 517.9,1022.4 519.6,1021.4 521.3,1020.3 523.0,1019.2 524.6,1018.1 526.3,1017.1 528.0,1015.9 529.6,1014.8 531.2,1013.7 532.9,1012.5 534.5,1011.4 536.1,1010.2 537.6,1009.0 539.2,1007.8 540.7,1006.5 542.3,1005.3 543.8,1004.0 545.3,1002.7 546.8,1001.4 548.2,1000.1 549.7,998.7 551.1,997.3 552.5,996.0 553.9,994.6 555.3,993.2 556.7,991.7 558.1,990.3 559.5,988.8 560.8,987.3 562.1,985.9 563.4,984.4 564.8,982.9 566.1,981.3 567.3,979.8 568.6,978.3 569.9,976.7 571.2,975.1 572.4,973.6 573.7,972.0 574.9,970.4 576.1,968.8 577.4,967.2 578.6,965.5 579.8,963.9 581.0,962.3 582.2,960.6 583.4,959.0 584.6,957.3 585.8,955.7 586.9,954.0 588.1,952.4 589.3,950.7 590.5,949.0 591.6,947.4 592.8,945.7 594.0,944.0 595.1,942.3 596.3,940.6 597.4,939.0 598.6,937.3 599.8,935.6 600.9,933.9 602.1,932.2 603.3,930.6 604.4,928.9 605.6,927.2 606.8,925.6 607.9,923.9 609.1,922.2 610.3,920.6 611.5,918.9 612.7,917.3 613.9,915.6 615.1,914.0 616.3,912.4 617.5,910.8 618.7,909.2 619.9,907.6 621.1,906.0 622.4,904.4 623.6,902.8 624.9,901.2 626.1,899.7 627.4,898.1 628.7,896.6 630.0,895.1 631.3,893.6 632.6,892.1 633.9,890.6 635.2,889.1 636.6,887.6 637.9,886.2 639.3,884.8 640.7,883.4 642.1,881.9 643.5,880.6 644.9,879.2 646.3,877.8 647.8,876.5 649.2,875.1 650.7,873.8 652.1,872.5 653.6,871.2 655.1,869.9 656.6,868.6 658.1,867.3 659.6,866.1 661.1,864.8 662.6,863.6 664.2,862.3 665.7,861.1 667.3,859.9 668.8,858.7 670.4,857.5 672.0,856.3 673.5,855.1 675.1,853.9 676.7,852.8 678.3,851.6 679.9,850.5 681.5,849.3 683.2,848.2 684.8,847.0 686.4,845.9 688.1,844.8 689.7,843.7 691.3,842.6 693.0,841.5 694.6,840.4 696.3,839.3 698.0,838.2 699.6,837.1 701.3,836.0 703.0,834.9 704.7,833.8 706.3,832.7 708.0,831.7 709.7,830.6 711.4,829.5 713.1,828.5 714.8,827.4 716.5,826.3 718.2,825.3 719.9,824.2 721.6,823.1 723.3,822.1 725.0,821.0 726.7,819.9 728.4,818.9 730.1,817.8 731.8,816.7 733.5,815.7 735.2,814.6 736.9,813.5 738.6,812.4 740.3,811.4 742.0,810.3 743.7,809.2 745.4,808.1 747.1,807.0 748.8,805.9 750.5,804.9 752.2,803.8 753.9,802.7 755.6,801.6 757.3,800.5 759.0,799.4 760.7,798.4 762.4,797.3 764.1,796.2 765.9,795.1 767.6,794.1 769.3,793.0 771.0,791.9 772.7,790.9 774.4,789.8 776.1,788.8 777.8,787.8 779.5,786.7 781.3,785.7 783.0,784.7 784.7,783.7 786.4,782.7 788.2,781.7 789.9,780.7 791.7,779.7 793.4,778.8 795.1,777.8 796.9,776.9 798.6,775.9 800.4,775.0 802.2,774.1 803.9,773.2 805.7,772.3 807.5,771.4 809.2,770.6 811.0,769.7 812.8,768.9 814.6,768.1 816.4,767.3 818.2,766.5 820.0,765.7 821.8,764.9 823.6,764.2 825.5,763.5 827.3,762.8 829.1,762.1 831.0,761.4 832.8,760.8 834.7,760.1 836.6,759.5 838.4,758.9 840.3,758.3 842.2,757.8 844.1,757.3 846.0,756.8 847.9,756.3 849.8,755.8 851.7,755.3 853.7,754.9 855.6,754.5 857.5,754.1 859.5,753.7 861.4,753.3 863.4,752.9 865.3,752.6 867.3,752.2 869.3,751.9 871.2,751.6 873.2,751.3 875.2,751.0 877.1,750.6 879.1,750.4 881.1,750.1 883.1,749.8 885.1,749.5 887.0,749.2 889.0,748.9 891.0,748.6 893.0,748.3 895.0,748.0 897.0,747.7 899.0,747.4 900.9,747.1 902.9,746.8 904.9,746.5 906.9,746.2 908.8,745.8 910.8,745.5 912.8,745.1 914.8,744.8 916.7,744.4 918.7,744.0 920.6,743.6 922.6,743.2 924.5,742.7 926.5,742.3 928.4,741.8 930.3,741.3 932.2,740.8 934.2,740.2 936.1,739.7 938.0,739.1 939.9,738.5 941.8,737.9 943.6,737.2 945.5,736.5 947.4,735.8 949.2,735.1 951.1,734.3 952.9,733.5 954.7,732.7 956.6,731.9 958.4,731.0 960.2,730.1 961.9,729.2 963.7,728.3 965.5,727.3 967.3,726.4 969.0,725.4 970.7,724.3 972.5,723.3 974.2,722.2 975.9,721.1 977.6,720.0 979.2,718.9 980.9,717.8 982.6,716.6 984.2,715.4 985.8,714.2 987.4,713.0 989.0,711.8 990.6,710.5 992.2,709.2 993.8,707.9 995.3,706.6 996.8,705.3 998.4,704.0 999.9,702.6 1001.3,701.3 1002.8,699.9 1004.3,698.5 1005.7,697.1 1007.2,695.7 1008.6,694.4 1010.1,692.9 1011.5,691.5 1012.9,690.1 1014.4,688.7 1015.8,687.4 1017.2,686.0 1018.7,684.6 1020.1,683.2 1021.6,681.9 1023.0,680.5 1024.5,679.2 1026.0,677.9 1027.4,676.6 1028.9,675.3 1030.4,674.0 1032.0,672.8 1033.5,671.6 1035.1,670.4 1036.7,669.3 1038.3,668.1 1039.9,667.0 1041.6,666.0 1043.2,665.0 1044.9,664.0 1046.6,663.0 1048.4,662.1 1050.1,661.2 1051.9,660.3 1053.7,659.5 1055.5,658.7 1057.3,657.9 1059.1,657.2 1061.0,656.5 1062.8,655.8 1064.7,655.2 1066.6,654.6 1068.5,654.0 1070.4,653.4 1072.3,652.9 1074.3,652.4 1076.2,652.0 1078.2,651.6 1080.1,651.2 1082.1,650.9 1084.1,650.5 1086.1,650.3 1088.1,650.0 1090.1,649.8 1092.1,649.6 1094.1,649.4 1096.1,649.3 1098.1,649.2 1100.1,649.2 1102.1,649.2 1104.1,649.2 1106.2,649.2 1108.2,649.3 1110.2,649.4 1112.2,649.5 1114.2,649.7 1116.2,649.9 1118.2,650.2 1120.2,650.4 1122.2,650.7 1124.2,651.1 1126.2,651.4 1128.2,651.8 1130.2,652.3 1132.1,652.8 1134.1,653.3 1136.0,653.8 1138.0,654.4 1139.9,655.0 1141.8,655.6 1143.7,656.2 1145.7,656.9 1147.6,657.6 1149.4,658.3 1151.3,659.1 1153.2,659.8 1155.1,660.6 1157.0,661.4 1158.8,662.2 1160.7,663.0 1162.5,663.8 1164.4,664.6 1166.3,665.4 1168.1,666.2 1170.0,667.1 1171.8,667.9 1173.7,668.7 1175.5,669.5 1177.4,670.3 1179.2,671.1 1181.1,671.9 1182.9,672.6 1184.8,673.4 1186.6,674.1 1188.5,674.8 1190.4,675.5 1192.2,676.1 1194.1,676.8 1196.0,677.4 1197.9,678.0 1199.8,678.5 1201.7,679.0 1203.6,679.5 1205.5,680.0 1207.4,680.4 1209.3,680.8 1211.2,681.2 1213.2,681.5 1215.1,681.8 1217.0,682.1 1219.0,682.4 1220.9,682.7 1222.9,682.9 1224.9,683.1 1226.8,683.4 1228.8,683.6 1230.8,683.8 1232.7,684.0 1234.7,684.1 1236.7,684.3 1238.7,684.5 1240.7,684.7 1242.6,684.8 1244.6,685.0 1246.6,685.2 1248.6,685.4 1250.6,685.6 1252.6,685.8 1254.6,686.0 1256.6,686.2 1258.6,686.4 1260.6,686.6 1262.6,686.9 1264.6,687.2 1266.6,687.5 1268.6,687.8 1270.6,688.1 1272.6,688.5 1274.7,688.8 1276.6,689.2 1278.6,689.6 1280.6,690.1 1282.6,690.5 1284.6,691.0 1286.6,691.5 1288.6,692.1 1290.5,692.6 1292.5,693.2 1294.5,693.7 1296.4,694.4 1298.4,695.0 1300.3,695.6 1302.2,696.3 1304.2,697.0 1306.1,697.7 1308.0,698.5 1309.8,699.2 1311.7,700.0 1313.6,700.8 1315.4,701.6 1317.3,702.5 1319.1,703.3 1320.9,704.2 1322.7,705.1 1324.5,706.1 1326.3,707.0 1328.1,708.0 1329.8,709.0 1331.5,710.0 1333.2,711.1 1334.9,712.2 1336.6,713.3 1338.2,714.4 1339.9,715.5 1341.5,716.7 1343.1,717.8 1344.7,719.1 1346.2,720.3 1347.7,721.5 1349.2,722.8 1350.7,724.1 1352.2,725.4 1353.6,726.8 1355.0,728.1 1356.4,729.5 1357.8,730.9 1359.1,732.4 1360.5,733.8 1361.7,735.3 1363.0,736.8 1364.3,738.3 1365.5,739.9 1366.7,741.4 1367.8,743.0 1369.0,744.6 1370.1,746.3 1371.2,747.9 1372.3,749.5 1373.4,751.2 1374.5,752.9 1375.5,754.6 1376.5,756.3 1377.5,758.0 1378.5,759.7 1379.5,761.5 1380.5,763.2 1381.4,765.0 1382.4,766.8 1383.3,768.6 1384.2,770.3 1385.2,772.1 1386.1,773.9 1387.0,775.7 1387.8,777.5 1388.7,779.4 1389.6,781.2 1390.5,783.0 1391.3,784.8 1392.2,786.6 1393.0,788.5 1393.9,790.3 1394.7,792.1 1395.6,793.9 1396.4,795.8 1397.2,797.6 1398.1,799.4 1398.9,801.3 1399.7,803.1 1400.5,804.9 1401.3,806.8 1402.1,808.6 1402.9,810.5 1403.7,812.3 1404.5,814.2 1405.2,816.0 1406.0,817.9 1406.8,819.7 1407.5,821.6 1408.3,823.4 1409.1,825.3 1409.8,827.2 1410.5,829.0 1411.3,830.9 1412.0,832.8 1412.8,834.6 1413.5,836.5 1414.2,838.4 1414.9,840.2 1415.6,842.1 1416.3,844.0 1417.0,845.9 1417.7,847.7 1418.4,849.6 1419.1,851.5 1419.8,853.4 1420.5,855.3 1421.2,857.2 1421.8,859.0 1422.5,860.9 1423.2,862.8 1423.8,864.7 1424.5,866.6 1425.1,868.5 1425.8,870.4 1426.4,872.3 1427.1,874.2 1427.7,876.1 1428.3,878.0 1428.9,879.9 1429.6,881.8 1430.2,883.7 1430.8,885.6 1431.4,887.5 1432.0,889.4 1432.6,891.3 1433.2,893.3 1433.8,895.2 1434.4,897.1 1435.0,899.0 1435.6,900.9 1436.1,902.8 1436.7,904.8 1437.3,906.7 1437.8,908.6 1438.4,910.5 1439.0,912.4 1439.5,914.4 1440.1,916.3 1440.6,918.2 1441.2,920.2 1441.7,922.1 1442.2,924.0 1442.8,925.9 1443.3,927.9 1443.8,929.8 1444.3,931.8 1444.9,933.7 1445.4,935.6 1445.9,937.6 1446.4,939.5 1446.9,941.4 1447.4,943.4 1447.9,945.3 1448.4,947.3 1448.9,949.2 1449.4,951.2 1449.9,953.1 1450.3,955.0 1450.8,957.0 1451.3,958.9 1451.8,960.9 1452.2,962.8 1452.7,964.8 1453.2,966.7 1453.6,968.7 1454.1,970.6 1454.5,972.6 1455.0,974.5 1455.4,976.5 1455.9,978.5 1456.3,980.4 1456.7,982.4 1457.2,984.3 1457.6,986.3 1458.0,988.2 1458.5,990.2 1458.9,992.2 1459.3,994.1 1459.7,996.1 1460.1,998.1 1460.5,1000.0 1460.9,1002.0 1461.4,1003.9 1461.8,1005.9 1462.2,1007.9 1462.6,1009.8 1462.9,1011.8 1463.3,1013.8 1463.7,1015.7 1464.1,1017.7 1464.5,1019.7 1464.9,1021.6 1465.3,1023.6 1465.6,1025.6 1466.0,1027.5 1466.4,1029.5 1466.8,1031.5 1467.1,1033.5 1467.5,1035.4 1467.8,1037.4 1468.2,1039.4 1468.6,1041.3 1468.9,1043.3 1469.3,1045.3 1469.6,1047.3 1470.0,1049.2 1470.3,1051.2 1470.7,1053.2 1471.0,1055.2 1471.3,1057.1 1471.7,1059.1 1472.0,1061.1 1472.3,1063.1 1472.7,1065.0 1473.0,1067.0 1473.3,1069.0 1473.7,1071.0 1474.0,1072.9 1474.3,1074.9 1474.6,1076.9 1474.9,1078.9 1475.3,1080.8 1475.6,1082.8 1475.9,1084.8 1476.2,1086.8 1476.5,1088.7 1476.8,1090.7 1477.1,1092.7 1477.4,1094.7 1477.7,1096.6 1478.0,1098.6 1478.3,1100.6 1478.6,1102.6 1478.9,1104.6 1479.2,1106.5 1479.5,1108.5 1479.8,1110.5 1480.1,1112.5 1480.3,1114.4 1480.6,1116.4 1480.9,1118.4 1481.2,1120.4 1481.5,1122.3 1481.7,1124.3 1482.0,1126.3 1482.3,1128.3 1482.6,1130.2 1482.8,1132.2 1483.1,1134.2 1483.4,1136.2 1483.7,1138.1 1483.9,1140.1 1484.2,1142.1 1484.5,1144.0 1484.7,1146.0 1485.0,1148.0 1485.2,1150.0 1485.5,1151.9 1485.8,1153.9 1486.0,1155.9 1486.3,1157.8 1486.5,1159.8 1486.8,1161.8 1487.1,1163.8 1487.3,1165.7 1487.6,1167.7 1487.8,1169.7 1488.1,1171.6 1488.3,1173.6 1488.6,1175.6 1488.8,1177.5 1489.1,1179.5 1489.3,1181.5 1489.6,1183.4 1489.8,1185.4 1490.1,1187.4 1490.3,1189.4 1490.6,1191.3 1490.8,1193.3 1491.1,1195.3 1491.3,1197.2 1491.6,1199.2 1491.8,1201.2 1492.1,1203.2 1492.3,1205.1 1492.6,1207.1 1492.8,1209.1 1493.1,1211.1 1493.3,1213.0 1493.6,1215.0 1493.9,1217.0 1494.1,1219.0 1494.4,1220.9 1494.6,1222.9 1494.9,1224.9 1495.1,1226.9 1495.4,1228.9 1495.7,1230.9 1495.9,1232.8 1496.2,1234.8 1496.5,1236.8 1496.7,1238.8 1497.0,1240.8 1497.3,1242.8 1497.6,1244.8 1497.8,1246.8 1498.1,1248.8 1498.4,1250.8 1498.7,1252.8 1499.0,1254.8 1499.3,1256.8 1499.6,1258.8 1499.8,1260.8 1500.1,1262.8 1500.4,1264.8 1500.7,1266.9 1501.0,1268.9 1501.3,1270.9 1501.7,1272.9 1502.0,1274.9 1502.3,1277.0 1502.6,1279.0 1502.9,1281.0 1503.2,1283.1 1503.6,1285.1 1503.9,1287.1 1504.2,1289.2 1504.6,1291.2 1504.9,1293.3 1505.2,1295.3 1505.6,1297.4 1505.9,1299.4 1506.3,1301.5 1506.6,1303.5 1507.0,1305.6 1507.4,1307.6 1507.7,1309.7 1508.1,1311.8 1508.5,1313.8 1508.8,1315.9 1509.2,1318.0 1509.6,1320.1 1510.0,1322.2 1510.4,1324.2 1510.8,1326.3 1511.3,1328.3 1511.8,1330.2 1512.3,1332.1 1512.9,1333.8 1513.6,1335.4 1514.3,1336.9 1515.2,1338.1 1516.1,1339.2 1517.2,1340.0 1518.4,1340.6 1519.8,1341.0 1521.3,1341.0 1522.8,1340.9 1524.5,1340.6 1526.3,1340.1 1528.2,1339.6 1530.1,1338.9 1532.0,1338.2 1534.0,1337.5 1536.0,1336.8 1538.0,1336.1 1540.0,1335.4 1542.0,1334.8 1544.0,1334.3 1546.0,1333.8 1548.0,1333.3 1550.0,1332.8 1552.0,1332.4 1554.0,1332.0 1556.0,1331.7 1558.0,1331.4 1560.0,1331.1 1562.0,1330.9 1564.0,1330.6 1566.0,1330.4 1568.0,1330.3 1570.0,1330.1 1572.0,1330.0 1574.0,1329.9 1576.0,1329.9 1578.0,1329.8 1580.0,1329.8 1582.0,1329.8 1584.0,1329.8 1586.0,1329.8 1588.0,1329.8 1590.0,1329.9 1592.0,1329.9 1594.0,1330.0 1596.0,1330.1 1598.0,1330.2 1600.0,1330.3 1602.0,1330.4 1604.0,1330.5 1606.0,1330.7 1608.0,1330.8 1610.0,1330.9 1612.0,1331.0 1614.0,1331.2 1616.0,1331.3 1618.0,1331.4 1620.0,1331.6 1622.0,1331.7 1624.0,1331.8 1626.0,1331.9 1628.0,1332.0 1630.0,1332.1 1632.0,1332.2 1634.0,1332.3 1636.0,1332.3 1638.0,1332.4 1640.0,1332.4 1642.0,1332.4 1644.0,1332.4 1646.0,1332.4 1648.0,1332.4" fill="none" stroke="#ff00ff" stroke-width="6.0" stroke-linejoin="round" stroke-linecap="round"/>
<path d="M346.9,1383.9 347.0,1381.9 347.2,1379.9 347.3,1378.0 347.5,1376.0 347.7,1374.0 347.8,1372.0 348.0,1370.1 348.2,1368.1 348.4,1366.1 348.6,1364.1 348.8,1362.2 349.1,1360.2 349.3,1358.2 349.5,1356.2 349.8,1354.2 350.0,1352.3 350.3,1350.3 350.5,1348.3 350.8,1346.3 351.1,1344.3 351.4,1342.4 351.7,1340.4 352.0,1338.4 352.3,1336.4 352.6,1334.4 352.9,1332.5 353.2,1330.5 353.5,1328.5 353.9,1326.5 354.2,1324.5 354.6,1322.6 354.9,1320.6 355.3,1318.6 355.6,1316.6 356.0,1314.7 356.4,1312.7 356.7,1310.7 357.1,1308.7 357.5,1306.8 357.9,1304.8 358.3,1302.8 358.7,1300.9 359.1,1298.9 359.6,1296.9 360.0,1295.0 360.4,1293.0 360.8,1291.0 361.3,1289.1 361.7,1287.1 362.2,1285.1 362.6,1283.2 363.1,1281.2 363.5,1279.3 364.0,1277.3 364.5,1275.4 364.9,1273.4 365.4,1271.5 365.9,1269.5 366.4,1267.6 366.9,1265.6 367.4,1263.7 367.9,1261.7 368.4,1259.8 368.9,1257.9 369.4,1255.9 369.9,1254.0 370.4,1252.1 371.0,1250.1 371.5,1248.2 372.0,1246.3 372.5,1244.4 373.1,1242.5 373.6,1240.5 374.2,1238.6 374.7,1236.7 375.3,1234.8 375.8,1232.9 376.4,1231.0 376.9,1229.1 377.5,1227.2 378.1,1225.3 378.6,1223.4 379.2,1221.5 379.8,1219.6 380.4,1217.7 381.0,1215.9 381.6,1214.0 382.2,1212.1 382.8,1210.2 383.4,1208.4 384.0,1206.5 384.7,1204.6 385.3,1202.8 386.0,1200.9 386.7,1199.1 387.3,1197.2 388.0,1195.4 388.7,1193.5 389.5,1191.7 390.2,1189.9 390.9,1188.0 391.7,1186.2 392.5,1184.4 393.2,1182.5 394.1,1180.7 394.9,1178.9 395.7,1177.1 396.6,1175.3 397.4,1173.5 398.3,1171.7 399.2,1169.9 400.1,1168.1 401.1,1166.3 402.0,1164.5 403.0,1162.7 404.0,1161.0 405.0,1159.2 406.0,1157.4 407.1,1155.7 408.1,1154.0 409.2,1152.2 410.3,1150.5 411.4,1148.8 412.6,1147.1 413.7,1145.4 414.9,1143.8 416.0,1142.1 417.2,1140.5 418.4,1138.8 419.7,1137.2 420.9,1135.6 422.1,1134.1 423.4,1132.5 424.7,1131.0 426.0,1129.4 427.3,1127.9 428.6,1126.4 429.9,1124.9 431.3,1123.5 432.6,1122.0 434.0,1120.6 435.4,1119.1 436.8,1117.7 438.2,1116.3 439.6,1114.9 441.0,1113.5 442.4,1112.1 443.9,1110.8 445.3,1109.4 446.8,1108.1 448.2,1106.7 449.7,1105.4 451.1,1104.0 452.6,1102.7 454.1,1101.4 455.6,1100.1 457.1,1098.8 458.6,1097.5 460.1,1096.2 461.6,1094.9 463.1,1093.6 464.6,1092.3 466.1,1091.0 467.6,1089.7 469.1,1088.4 470.6,1087.1 472.1,1085.8 473.6,1084.5 475.1,1083.2 476.7,1082.0 478.2,1080.7 479.7,1079.4 481.2,1078.1 482.7,1076.8 484.2,1075.4 485.7,1074.1 487.2,1072.8 488.6,1071.5 490.1,1070.2 491.6,1068.8 493.1,1067.5 494.5,1066.1 496.0,1064.8 497.4,1063.4 498.9,1062.0 500.3,1060.6 501.7,1059.2 503.1,1057.8 504.5,1056.4 505.9,1055.0 507.3,1053.5 508.7,1052.1 510.1,1050.6 511.4,1049.1 512.8,1047.6 514.1,1046.1 515.4,1044.6 516.7,1043.1 518.0,1041.5 519.3,1039.9 520.6,1038.4 521.9,1036.8 523.1,1035.2 524.4,1033.6 525.7,1032.0 526.9,1030.4 528.2,1028.9 529.5,1027.3 530.7,1025.7 532.0,1024.2 533.3,1022.7 534.6,1021.2 535.9,1019.7 537.2,1018.2 538.6,1016.8 539.9,1015.4 541.3,1014.0 542.7,1012.6 544.2,1011.3 545.6,1010.0 547.1,1008.8 548.6,1007.6 550.1,1006.4 551.7,1005.3 553.3,1004.2 554.9,1003.2 556.6,1002.3 558.3,1001.4 560.0,1000.5 561.7,999.7 563.5,998.9 565.3,998.1 567.2,997.4 569.0,996.7 570.9,996.1 572.8,995.5 574.7,994.8 576.6,994.3 578.5,993.7 580.4,993.1 582.4,992.6 584.3,992.1 586.3,991.5 588.3,991.0 590.2,990.5 592.2,989.9 594.1,989.4 596.1,988.9 598.0,988.3 600.0,987.8 601.9,987.2 603.8,986.6 605.7,986.0 607.6,985.4 609.6,984.8 611.5,984.2 613.4,983.6 615.3,983.0 617.1,982.3 619.0,981.7 620.9,981.0 622.8,980.4 624.7,979.7 626.5,979.0 628.4,978.3 630.3,977.7 632.1,977.0 634.0,976.2 635.8,975.5 637.7,974.8 639.5,974.1 641.3,973.3 643.2,972.6 645.0,971.8 646.8,971.1 648.7,970.3 650.5,969.5 652.3,968.8 654.1,968.0 655.9,967.2 657.8,966.4 659.6,965.6 661.4,964.8 663.2,963.9 665.0,963.1 666.8,962.3 668.6,961.4 670.4,960.6 672.2,959.8 674.0,958.9 675.8,958.0 677.6,957.2 679.4,956.3 681.2,955.4 683.0,954.5 684.8,953.6 686.6,952.7 688.4,951.8 690.2,950.9 691.9,950.0 693.7,949.1 695.5,948.2 697.3,947.2 699.1,946.3 700.9,945.4 702.6,944.4 704.4,943.5 706.2,942.5 707.9,941.5 709.7,940.5 711.5,939.5 713.2,938.6 715.0,937.6 716.7,936.5 718.4,935.5 720.2,934.5 721.9,933.5 723.6,932.4 725.3,931.4 727.0,930.3 728.7,929.2 730.4,928.2 732.1,927.1 733.8,926.0 735.4,924.9 737.1,923.7 738.8,922.6 740.4,921.5 742.0,920.3 743.7,919.2 745.3,918.0 746.9,916.8 748.5,915.7 750.1,914.5 751.7,913.3 753.2,912.0 754.8,910.8 756.4,909.6 757.9,908.4 759.5,907.1 761.0,905.9 762.6,904.6 764.1,903.4 765.6,902.1 767.2,900.8 768.7,899.5 770.2,898.2 771.7,896.9 773.2,895.6 774.7,894.3 776.2,893.0 777.7,891.7 779.1,890.4 780.6,889.1 782.1,887.7 783.6,886.4 785.0,885.1 786.5,883.7 788.0,882.4 789.4,881.0 790.9,879.7 792.4,878.3 793.8,877.0 795.3,875.6 796.7,874.3 798.2,872.9 799.6,871.5 801.1,870.2 802.5,868.8 804.0,867.4 805.4,866.1 806.9,864.7 808.3,863.3 809.8,862.0 811.2,860.6 812.7,859.2 814.2,857.9 815.6,856.5 817.1,855.1 818.5,853.8 820.0,852.4 821.4,851.1 822.9,849.7 824.4,848.3 825.9,847.0 827.3,845.6 828.8,844.3 830.3,842.9 831.8,841.6 833.2,840.2 834.7,838.9 836.2,837.6 837.7,836.2 839.2,834.9 840.7,833.6 842.2,832.2 843.7,830.9 845.2,829.6 846.7,828.2 848.2,826.9 849.7,825.6 851.2,824.3 852.7,822.9 854.2,821.6 855.7,820.3 857.3,819.0 858.8,817.7 860.3,816.4 861.8,815.0 863.3,813.7 864.8,812.4 866.4,811.1 867.9,809.8 869.4,808.5 870.9,807.2 872.5,805.9 874.0,804.6 875.5,803.3 877.1,802.0 878.6,800.7 880.1,799.4 881.7,798.1 883.2,796.8 884.7,795.5 886.3,794.2 887.8,792.9 889.4,791.6 890.9,790.3 892.4,789.0 894.0,787.7 895.5,786.4 897.1,785.1 898.6,783.8 900.1,782.5 901.7,781.2 903.2,780.0 904.8,778.7 906.3,777.4 907.9,776.1 909.4,774.8 910.9,773.5 912.5,772.2 914.0,770.9 915.6,769.6 917.1,768.3 918.7,767.1 920.2,765.8 921.7,764.5 923.3,763.2 924.8,761.9 926.4,760.6 927.9,759.3 929.5,758.0 931.0,756.7 932.5,755.5 934.1,754.2 935.6,752.9 937.2,751.6 938.7,750.3 940.2,749.0 941.8,747.7 943.3,746.4 944.8,745.1 946.4,743.8 947.9,742.5 949.4,741.2 951.0,739.9 952.5,738.6 954.0,737.3 955.5,736.0 957.1,734.7 958.6,733.4 960.1,732.1 961.6,730.8 963.2,729.5 964.7,728.2 966.2,726.9 967.7,725.6 969.2,724.3 970.7,723.0 972.2,721.7 973.8,720.4 975.3,719.0 976.8,717.7 978.3,716.4 979.8,715.1 981.3,713.8 982.8,712.5 984.3,711.1 985.8,709.8 987.2,708.5 988.7,707.2 990.2,705.8 991.7,704.5 993.2,703.2 994.7,701.8 996.1,700.5 997.6,699.2 999.1,697.8 1000.6,696.5 1002.0,695.1 1003.5,693.8 1005.0,692.4 1006.4,691.1 1007.9,689.7 1009.3,688.4 1010.8,687.0 1012.2,685.7 1013.7,684.3 1015.1,683.0 1016.6,681.6 1018.0,680.2 1019.5,678.9 1020.9,677.5 1022.3,676.1 1023.8,674.8 1025.2,673.4 1026.6,672.0 1028.1,670.7 1029.5,669.3 1030.9,667.9 1032.3,666.5 1033.8,665.1 1035.2,663.8 1036.6,662.4 1038.0,661.0 1039.4,659.6 1040.9,658.2 1042.3,656.8 1043.7,655.4 1045.1,654.0 1046.5,652.6 1047.9,651.2 1049.3,649.8 1050.7,648.5 1052.1,647.0 1053.5,645.6 1055.0,644.2 1056.4,642.8 1057.8,641.4 1059.2,640.0 1060.6,638.6 1062.0,637.2 1063.4,635.8 1064.8,634.4 1066.2,633.0 1067.6,631.5 1069.0,630.1 1070.3,628.7 1071.7,627.3 1073.1,625.9 1074.5,624.4 1075.9,623.0 1077.3,621.6 1078.7,620.2 1080.1,618.7 1081.5,617.3 1082.9,615.9 1084.3,614.5 1085.7,613.0 1087.1,611.6 1088.5,610.2 1089.9,608.7 1091.3,607.3 1092.7,605.8 1094.1,604.4 1095.5,603.0 1096.8,601.5 1098.2,600.1 1099.6,598.6 1101.0,597.2 1102.4,595.8 1103.8,594.3 1105.2,592.9 1106.6,591.4 1108.0,590.0 1109.4,588.5 1110.8,587.1 1112.2,585.6 1113.6,584.2 1115.0,582.7 1116.4,581.3 1117.9,579.8 1119.3,578.3 1120.7,576.9 1122.1,575.4 1123.5,574.0 1124.9,572.5 1126.3,571.1 1127.7,569.6 1129.1,568.1 1130.6,566.7 1132.0,565.2 1133.4,563.7 1134.8,562.3 1136.2,560.8 1137.7,559.3 1139.1,557.9 1140.5,556.4 1141.9,554.9 1143.4,553.5 1144.8,552.0 1146.2,550.5 1147.7,549.1 1149.1,547.6 1150.5,546.1 1152.0,544.7 1153.4,543.2 1154.9,541.7 1156.3,540.2 1157.8,538.8 1159.2,537.3 1160.7,535.8 1162.1,534.4 1163.6,532.9 1165.1,531.5 1166.5,530.0 1168.0,528.6 1169.5,527.2 1171.0,525.8 1172.5,524.5 1174.0,523.1 1175.5,521.8 1177.1,520.5 1178.6,519.3 1180.2,518.1 1181.7,516.9 1183.3,515.7 1184.9,514.6 1186.5,513.5 1188.1,512.4 1189.7,511.4 1191.4,510.5 1193.0,509.6 1194.7,508.7 1196.4,507.9 1198.1,507.2 1199.8,506.5 1201.5,505.8 1203.3,505.2 1205.1,504.7 1206.9,504.3 1208.7,503.9 1210.5,503.5 1212.4,503.3 1214.2,503.1 1216.1,503.0 1218.1,503.0 1220.0,503.0 1222.0,503.1 1224.0,503.3 1225.9,503.6 1227.9,504.0 1229.9,504.4 1231.9,504.9 1233.9,505.4 1235.8,506.1 1237.8,506.8 1239.7,507.5 1241.6,508.4 1243.4,509.3 1245.3,510.2 1247.0,511.3 1248.8,512.4 1250.5,513.5 1252.1,514.8 1253.6,516.0 1255.2,517.4 1256.6,518.8 1258.0,520.2 1259.4,521.7 1260.7,523.2 1262.0,524.8 1263.2,526.4 1264.4,528.0 1265.6,529.7 1266.8,531.3 1267.9,533.0 1268.9,534.7 1270.0,536.4 1271.0,538.2 1272.1,539.9 1273.0,541.7 1274.0,543.4 1275.0,545.2 1275.9,547.0 1276.8,548.8 1277.7,550.6 1278.6,552.4 1279.5,554.2 1280.3,556.1 1281.2,557.9 1282.0,559.7 1282.9,561.6 1283.7,563.4 1284.6,565.3 1285.4,567.1 1286.2,569.0 1287.1,570.8 1287.9,572.7 1288.7,574.5 1289.6,576.3 1290.4,578.2 1291.3,580.0 1292.1,581.8 1293.0,583.6 1293.9,585.4 1294.8,587.2 1295.7,589.0 1296.6,590.8 1297.6,592.6 1298.6,594.3 1299.6,596.0 1300.6,597.8 1301.6,599.5 1302.6,601.2 1303.7,602.9 1304.8,604.5 1305.9,606.2 1307.0,607.8 1308.2,609.4 1309.4,611.0 1310.6,612.6 1311.8,614.2 1313.0,615.7 1314.2,617.3 1315.5,618.8 1316.8,620.3 1318.1,621.7 1319.5,623.2 1320.8,624.6 1322.2,626.0 1323.6,627.4 1325.0,628.8 1326.4,630.2 1327.9,631.5 1329.4,632.8 1330.9,634.1 1332.4,635.4 1333.9,636.6 1335.5,637.8 1337.1,639.0 1338.6,640.2 1340.2,641.4 1341.7,642.7 1343.3,643.9 1344.8,645.1 1346.3,646.4 1347.7,647.7 1349.1,649.1 1350.5,650.4 1351.8,651.8 1353.1,653.3 1354.3,654.8 1355.5,656.3 1356.7,657.8 1357.9,659.4 1359.0,660.9 1360.1,662.6 1361.1,664.2 1362.1,665.9 1363.1,667.5 1364.1,669.3 1365.0,671.0 1365.9,672.7 1366.8,674.5 1367.6,676.3 1368.4,678.1 1369.3,679.9 1370.0,681.7 1370.8,683.6 1371.5,685.4 1372.3,687.3 1373.0,689.2 1373.6,691.0 1374.3,692.9 1375.0,694.8 1375.6,696.7 1376.2,698.6 1376.8,700.6 1377.4,702.5 1378.0,704.4 1378.6,706.3 1379.1,708.2 1379.7,710.1 1380.2,712.1 1380.8,714.0 1381.3,715.9 1381.8,717.9 1382.3,719.8 1382.7,721.7 1383.2,723.7 1383.7,725.6 1384.1,727.6 1384.6,729.5 1385.0,731.4 1385.4,733.4 1385.9,735.3 1386.3,737.3 1386.7,739.2 1387.1,741.2 1387.4,743.2 1387.8,745.1 1388.2,747.1 1388.5,749.0 1388.9,751.0 1389.2,753.0 1389.6,754.9 1389.9,756.9 1390.2,758.9 1390.5,760.9 1390.8,762.8 1391.2,764.8 1391.5,766.8 1391.7,768.8 1392.0,770.7 1392.3,772.7 1392.6,774.7 1392.9,776.7 1393.1,778.7 1393.4,780.6 1393.7,782.6 1393.9,784.6 1394.2,786.6 1394.4,788.6 1394.7,790.6 1394.9,792.6 1395.2,794.5 1395.4,796.5 1395.6,798.5 1395.9,800.5 1396.1,802.5 1396.3,804.5 1396.6,806.5 1396.8,808.5 1397.0,810.5 1397.3,812.5 1397.5,814.5 1397.7,816.5 1397.9,818.5 1398.2,820.5 1398.4,822.5 1398.6,824.4 1398.8,826.4 1399.1,828.4 1399.3,830.4 1399.5,832.4 1399.7,834.4 1399.9,836.4 1400.2,838.4 1400.4,840.4 1400.6,842.4 1400.8,844.4 1401.0,846.4 1401.3,848.4 1401.5,850.4 1401.7,852.4 1401.9,854.4 1402.1,856.4 1402.3,858.4 1402.6,860.4 1402.8,862.4 1403.0,864.4 1403.2,866.4 1403.4,868.4 1403.6,870.4 1403.9,872.4 1404.1,874.4 1404.3,876.4 1404.5,878.4 1404.7,880.4 1404.9,882.4 1405.1,884.4 1405.4,886.4 1405.6,888.4 1405.8,890.4 1406.0,892.4 1406.2,894.4 1406.4,896.4 1406.6,898.4 1406.8,900.4 1407.1,902.4 1407.3,904.4 1407.5,906.4 1407.7,908.4 1407.9,910.4 1408.1,912.4 1408.3,914.4 1408.5,916.4 1408.8,918.4 1409.0,920.4 1409.2,922.4 1409.4,924.4 1409.6,926.4 1409.8,928.4 1410.0,930.4 1410.2,932.3 1410.5,934.3 1410.7,936.3 1410.9,938.3 1411.1,940.3 1411.3,942.3 1411.5,944.3 1411.7,946.3 1411.9,948.3 1412.1,950.3 1412.4,952.3 1412.6,954.3 1412.8,956.3 1413.0,958.3 1413.2,960.3 1413.4,962.3 1413.6,964.3 1413.8,966.2 1414.1,968.2 1414.3,970.2 1414.5,972.2 1414.7,974.2 1414.9,976.2 1415.1,978.2 1415.3,980.2 1415.6,982.2 1415.8,984.2 1416.0,986.1 1416.2,988.1 1416.4,990.1 1416.6,992.1 1416.8,994.1 1417.1,996.1 1417.3,998.1 1417.5,1000.0 1417.7,1002.0 1417.9,1004.0 1418.1,1006.0 1418.4,1008.0 1418.6,1010.0 1418.8,1011.9 1419.0,1013.9 1419.2,1015.9 1419.5,1017.9 1419.7,1019.9 1419.9,1021.8 1420.1,1023.8 1420.3,1025.8 1420.6,1027.8 1420.8,1029.7 1421.0,1031.7 1421.2,1033.7 1421.4,1035.7 1421.7,1037.6 1421.9,1039.6 1422.1,1041.6 1422.3,1043.6 1422.6,1045.5 1422.8,1047.5 1423.0,1049.5 1423.2,1051.4 1423.5,1053.4 1423.7,1055.4 1423.9,1057.3 1424.2,1059.3 1424.4,1061.3 1424.6,1063.2 1424.8,1065.2 1425.1,1067.2 1425.3,1069.1 1425.5,1071.1 1425.8,1073.1 1426.0,1075.0 1426.2,1077.0 1426.5,1078.9 1426.7,1080.9 1426.9,1082.9 1427.1,1084.8 1427.4,1086.8 1427.6,1088.8 1427.8,1090.7 1428.1,1092.7 1428.3,1094.7 1428.5,1096.6 1428.8,1098.6 1429.0,1100.6 1429.2,1102.5 1429.5,1104.5 1429.7,1106.5 1429.9,1108.4 1430.2,1110.4 1430.4,1112.4 1430.6,1114.4 1430.9,1116.3 1431.1,1118.3 1431.3,1120.3 1431.5,1122.3 1431.8,1124.3 1432.0,1126.2 1432.2,1128.2 1432.5,1130.2 1432.7,1132.2 1432.9,1134.2 1433.1,1136.2 1433.4,1138.2 1433.6,1140.2 1433.8,1142.2 1434.0,1144.1 1434.3,1146.1 1434.5,1148.2 1434.7,1150.2 1434.9,1152.2 1435.2,1154.2 1435.4,1156.2 1435.6,1158.2 1435.8,1160.2 1436.0,1162.2 1436.2,1164.2 1436.5,1166.3 1436.7,1168.3 1436.9,1170.3 1437.1,1172.4 1437.3,1174.4 1437.5,1176.4 1437.7,1178.5 1438.0,1180.5 1438.2,1182.6 1438.4,1184.6 1438.6,1186.7 1438.8,1188.7 1439.0,1190.8 1439.2,1192.8 1439.4,1194.9 1439.6,1197.0 1439.8,1199.0 1440.1,1201.1 1440.3,1203.1 1440.5,1205.2 1440.8,1207.3 1441.0,1209.3 1441.2,1211.4 1441.5,1213.4 1441.8,1215.5 1442.0,1217.5 1442.3,1219.5 1442.6,1221.6 1442.9,1223.6 1443.3,1225.6 1443.6,1227.6 1443.9,1229.7 1444.3,1231.7 1444.7,1233.7 1445.1,1235.7 1445.5,1237.6 1445.9,1239.6 1446.3,1241.6 1446.8,1243.5 1447.3,1245.5 1447.8,1247.4 1448.3,1249.3 1448.8,1251.2 1449.4,1253.1 1450.0,1255.0 1450.6,1256.9 1451.2,1258.7 1451.8,1260.6 1452.5,1262.4 1453.2,1264.2 1454.0,1266.0 1454.7,1267.8 1455.5,1269.6 1456.3,1271.4 1457.1,1273.1 1458.0,1274.8 1458.9,1276.5 1459.8,1278.2 1460.8,1279.9 1461.8,1281.5 1462.8,1283.1 1463.9,1284.7 1465.0,1286.3 1466.1,1287.9 1467.3,1289.4 1468.5,1290.9 1469.8,1292.4 1471.0,1293.9 1472.4,1295.4 1473.7,1296.8 1475.1,1298.2 1476.5,1299.6 1478.0,1300.9 1479.5,1302.2 1481.1,1303.5 1482.7,1304.8 1484.3,1306.0 1485.9,1307.1 1487.6,1308.2 1489.3,1309.3 1491.1,1310.3 1492.8,1311.2 1494.6,1312.1 1496.4,1312.9 1498.3,1313.7 1500.2,1314.4 1502.0,1315.0 1503.9,1315.5 1505.9,1316.0 1507.8,1316.3 1509.8,1316.6 1511.7,1316.8 1513.7,1316.9 1515.7,1316.9 1517.7,1316.8 1519.7,1316.6 1521.8,1316.4 1523.8,1316.0 1525.8,1315.6 1527.8,1315.1 1529.8,1314.5 1531.7,1313.8 1533.7,1313.1 1535.6,1312.4 1537.5,1311.6 1539.3,1310.7 1541.1,1309.8 1542.9,1308.9 1544.6,1307.9 1546.3,1306.8 1548.0,1305.8 1549.6,1304.6 1551.2,1303.5 1552.8,1302.3 1554.4,1301.1 1555.9,1299.8 1557.4,1298.5 1558.8,1297.2 1560.3,1295.8 1561.7,1294.4 1563.0,1293.0 1564.4,1291.5 1565.7,1290.0 1567.0,1288.5 1568.3,1287.0 1569.5,1285.4 1570.7,1283.8 1571.9,1282.2 1573.1,1280.6 1574.2,1278.9 1575.4,1277.2 1576.5,1275.6 1577.6,1273.8 1578.7,1272.1 1579.7,1270.4 1580.7,1268.6 1581.8,1266.9 1582.8,1265.1 1583.7,1263.3 1584.7,1261.5 1585.7,1259.7 1586.6,1257.9 1587.5,1256.0 1588.4,1254.2 1589.3,1252.4 1590.2,1250.5 1591.1,1248.7 1591.9,1246.9 1592.8,1245.0 1593.6,1243.2 1594.5,1241.3 1595.3,1239.5 1596.1,1237.7 1596.9,1235.8 1597.7,1234.0 1598.5,1232.2 1599.3,1230.4 1600.0,1228.6 1600.8,1226.8 1601.6,1225.0 1602.3,1223.2 1603.1,1221.4 1603.9,1219.6 1604.6,1217.9 1605.4,1216.1 1606.1,1214.3 1606.8,1212.5 1607.6,1210.7 1608.3,1208.9 1609.1,1207.2 1609.8,1205.4 1610.6,1203.6 1611.3,1201.8 1612.0,1200.0 1612.8,1198.2 1613.5,1196.4 1614.3,1194.6 1615.0,1192.8 1615.8,1191.0 1616.5,1189.2 1617.3,1187.4 1618.1,1185.6 1618.8,1183.7 1619.6,1181.9 1620.4,1180.0 1621.2,1178.2 1622.0,1176.3 1622.8,1174.5 1623.6,1172.6 1624.4,1170.7 1625.2,1168.8 1626.1,1166.9 1626.9,1165.0 1627.8,1163.0 1628.6,1161.1 1629.5,1159.2 1630.4,1157.2 1631.3,1155.2 1632.2,1153.2 1633.1,1151.2 1634.1,1149.2 1635.0,1147.2 1636.0,1145.1 1636.9,1143.1 1637.9,1141.1 1639.0,1139.1 1640.0,1137.1 1641.0,1135.2 1642.1,1133.3 1643.2,1131.4 1644.4,1129.6 1645.5,1127.9 1646.7,1126.2 1647.9,1124.7 1649.1,1123.2 1650.4,1121.8 1651.7,1120.5 1653.1,1119.3 1654.4,1118.3 1655.9,1117.4 1657.3,1116.6 1658.7,1115.9 1660.2,1115.4 1661.6,1115.0 1663.1,1114.8 1664.6,1114.7 1666.0,1114.7 1667.5,1115.0 1668.9,1115.3 1670.4,1115.9 1671.8,1116.5 1673.1,1117.3 1674.5,1118.3 1675.8,1119.3 1677.0,1120.5 1678.2,1121.8 1679.4,1123.2 1680.6,1124.7 1681.7,1126.3 1682.8,1128.0 1683.8,1129.8 1684.8,1131.6 1685.8,1133.4 1686.8,1135.3 1687.7,1137.3 1688.7,1139.3 1689.6,1141.3 1690.5,1143.3 1691.3,1145.3 1692.2,1147.3 1693.0,1149.3 1693.8,1151.3 1694.6,1153.3 1695.4,1155.3 1696.2,1157.3 1697.0,1159.3 1697.7,1161.3 1698.4,1163.2 1699.2,1165.2 1699.9,1167.2 1700.6,1169.2 1701.3,1171.1 1702.0,1173.1 1702.6,1175.0 1703.3,1177.0 1703.9,1179.0 1704.6,1180.9 1705.2,1182.9 1705.8,1184.8 1706.5,1186.7 1707.1,1188.7 1707.7,1190.6 1708.3,1192.5 1708.9,1194.5 1709.5,1196.4 1710.0,1198.3 1710.6,1200.2 1711.2,1202.1 1711.8,1204.0 1712.4,1206.0 1712.9,1207.9 1713.5,1209.8 1714.1,1211.7 1714.6,1213.6 1715.2,1215.5 1715.8,1217.4 1716.3,1219.2 1716.9,1221.1 1717.5,1223.0 1718.0,1224.9 1718.6,1226.8 1719.2,1228.7 1719.8,1230.5 1720.4,1232.4 1721.0,1234.3 1721.5,1236.1 1722.1,1238.0 1722.8,1239.9 1723.4,1241.7 1724.0,1243.6 1724.6,1245.4 1725.2,1247.3 1725.9,1249.2 1726.5,1251.0 1727.2,1252.9 1727.9,1254.7 1728.5,1256.5 1729.2,1258.4 1729.9,1260.2 1730.6,1262.1 1731.4,1263.9 1732.1,1265.7 1732.8,1267.6 1733.6,1269.4 1734.4,1271.2 1735.2,1273.1 1735.9,1274.9 1736.7,1276.7 1737.6,1278.5 1738.4,1280.4 1739.2,1282.2 1740.0,1284.0 1740.9,1285.8 1741.8,1287.6 1742.6,1289.4 1743.5,1291.2 1744.4,1293.0 1745.3,1294.9 1746.2,1296.7 1747.1,1298.5 1748.0,1300.3 1748.9,1302.1 1749.8,1303.9 1750.8,1305.6 1751.7,1307.4 1752.7,1309.2 1753.6,1311.0 1754.6,1312.8 1755.5,1314.6 1756.5,1316.4 1757.5,1318.2 1758.4,1319.9 1759.4,1321.7 1760.4,1323.5 1761.4,1325.3 1762.4,1327.0 1763.4,1328.8 1764.4,1330.6 1765.4,1332.3 1766.4,1334.1 1767.4,1335.9 1768.4,1337.6 1769.4,1339.4 1770.4,1341.1 1771.4,1342.9 1772.4,1344.6 1773.4,1346.4 1774.4,1348.1 1775.4,1349.9 1776.4,1351.6 1777.4,1353.4 1778.5,1355.1 1779.5,1356.8 1780.5,1358.6 1781.5,1360.3 1782.5,1362.0 1783.5,1363.8 1784.5,1365.5 1785.4,1367.2 1786.4,1369.0 1787.4,1370.7 1788.4,1372.4 1789.4,1374.1 1790.4,1375.8 1791.3,1377.5 1792.3,1379.3 1793.3,1381.0 1794.2,1382.7 1795.2,1384.4 1796.1,1386.1 1797.1,1387.8" fill="none" stroke="#ff0000" stroke-width="6.0" stroke-linejoin="round" stroke-linecap="round"/>
<path d="M332.0,1348.5L362.0,1348.5L347.0,1375.5Z" fill="#ff0000"/>
<path d="M334.0,1360.5L364.0,1360.5L349.0,1387.5Z" fill="#ff0000"/>
<path d="M341.0,1304.5L371.0,1304.5L356.0,1331.5Z" fill="#ff0000"/>
<path d="M351.5,1252.5L381.5,1252.5L366.5,1279.5Z" fill="#ff0000"/>
<path d="M366.4,1174.5L396.4,1174.5L381.4,1201.5Z" fill="#ff0000"/>
<path d="M410.5,1126.0L440.5,1126.0L425.5,1153.0Z" fill="#ff0000"/>
<path d="M436.4,1087.0L466.4,1087.0L451.4,1114.0Z" fill="#ff0000"/>
<path d="M499.2,1033.8L529.2,1033.8L514.2,1060.8Z" fill="#ff0000"/>
<path d="M538.0,985.0L568.0,985.0L553.0,1012.0Z" fill="#ff0000"/>
<path d="M632.2,966.5L662.2,966.5L647.2,993.5Z" fill="#ff0000"/>
<path d="M740.7,903.8L770.7,903.8L755.7,930.8Z" fill="#ff0000"/>
<path d="M816.8,835.2L846.8,835.2L831.8,862.2Z" fill="#ff0000"/>
<path d="M887.1,771.3L917.1,771.3L902.1,798.3Z" fill="#ff0000"/>
<path d="M991.6,677.0L1021.6,677.0L1006.6,704.0Z" fill="#ff0000"/>
<path d="M1104.2,567.3L1134.2,567.3L1119.2,594.3Z" fill="#ff0000"/>
<path d="M1162.5,495.5L1192.5,495.5L1177.5,522.5Z" fill="#ff0000"/>
<path d="M1233.5,486.4L1263.5,486.4L1248.5,513.4Z" fill="#ff0000"/>
<path d="M1266.0,554.4L1296.0,554.4L1281.0,581.4Z" fill="#ff0000"/>
<path d="M1317.4,642.1L1347.4,642.1L1332.4,669.1Z" fill="#ff0000"/>
<path d="M1373.7,637.4L1403.7,637.4L1388.7,664.4Z" fill="#ff0000"/>
<path d="M1416.5,1194.0L1446.5,1194.0L1431.5,1221.0Z" fill="#ff0000"/>
<path d="M1447.0,1297.5L1477.0,1297.5L1462.0,1324.5Z" fill="#ff0000"/>
<path d="M1503.0,1311.5L1533.0,1311.5L1518.0,1338.5Z" fill="#ff0000"/>
<path d="M1545.5,1282.0L1575.5,1282.0L1560.5,1309.0Z" fill="#ff0000"/>
<path d="M1582.8,1232.5L1612.8,1232.5L1597.8,1259.5Z" fill="#ff0000"/>
<path d="M1654.5,1033.5L1684.5,1033.5L1669.5,1060.5Z" fill="#ff0000"/>
<path d="M1708.0,1250.2L1738.0,1250.2L1723.0,1277.2Z" fill="#ff0000"/>
<path d="M351.0,1365.1 351.6,1364.4 352.1,1363.2 352.5,1361.6 352.8,1359.8 352.9,1357.6 353.0,1355.2 353.1,1352.7 353.0,1350.0 353.0,1347.2 352.9,1344.4 352.8,1341.5 352.7,1338.8 352.7,1336.0 352.7,1333.5 352.7,1331.1 352.8,1328.9 352.9,1327.0 353.2,1325.4 353.6,1324.1 354.1,1323.3 354.7,1322.9 355.5,1322.9 356.4,1323.6 357.5,1324.6 358.7,1325.9 359.9,1327.0 361.2,1327.9 362.4,1328.3 363.6,1328.2 364.8,1327.9 365.9,1327.2 366.9,1326.4 367.9,1325.5 368.9,1324.4 369.8,1323.3 370.6,1322.1 371.4,1320.7 372.1,1319.3 372.8,1317.9 373.4,1316.3 374.0,1314.7 374.6,1313.0 375.1,1311.2 375.6,1309.4 376.1,1307.5 376.5,1305.6 377.0,1303.6 377.4,1301.6 377.7,1299.5 378.1,1297.4 378.5,1295.3 378.8,1293.2 379.1,1291.0 379.5,1288.8 379.8,1286.6 380.1,1284.3 380.5,1282.1 380.8,1279.9 381.1,1277.6 381.5,1275.4 381.9,1273.2 382.2,1271.0 382.6,1268.8 383.1,1266.6 383.5,1264.4 384.0,1262.3 384.5,1260.2 385.0,1258.2 385.6,1256.2 386.2,1254.2 386.9,1252.2 387.6,1250.3 388.3,1248.5 389.0,1246.6 389.7,1244.8 390.5,1243.0 391.3,1241.2 392.1,1239.5 392.9,1237.8 393.8,1236.0 394.6,1234.3 395.5,1232.6 396.3,1230.9 397.2,1229.2 398.1,1227.6 399.0,1225.9 399.8,1224.2 400.7,1222.5 401.6,1220.8 402.4,1219.0 403.3,1217.3 404.1,1215.5 404.9,1213.8 405.7,1212.0 406.5,1210.2 407.3,1208.4 408.1,1206.6 408.9,1204.7 409.7,1202.9 410.4,1201.0 411.2,1199.2 412.0,1197.3 412.7,1195.5 413.5,1193.6 414.3,1191.7 415.0,1189.8 415.8,1187.9 416.5,1186.0 417.3,1184.1 418.0,1182.2 418.8,1180.3 419.6,1178.4 420.4,1176.5 421.1,1174.6 421.9,1172.7 422.7,1170.8 423.5,1168.9 424.3,1167.1 425.2,1165.2 426.0,1163.3 426.8,1161.4 427.7,1159.6 428.5,1157.7 429.4,1155.9 430.3,1154.1 431.2,1152.2 432.1,1150.4 433.1,1148.6 434.0,1146.9 435.0,1145.1 436.0,1143.3 437.0,1141.6 438.0,1139.9 439.1,1138.2 440.2,1136.5 441.3,1134.8 442.4,1133.2 443.5,1131.5 444.7,1129.9 445.9,1128.4 447.1,1126.8 448.3,1125.2 449.6,1123.7 450.9,1122.2 452.2,1120.7 453.5,1119.2 454.8,1117.8 456.2,1116.3 457.6,1114.9 459.0,1113.5 460.4,1112.1 461.8,1110.7 463.2,1109.3 464.7,1108.0 466.1,1106.6 467.6,1105.3 469.1,1103.9 470.6,1102.6 472.0,1101.2 473.5,1099.9 475.0,1098.6 476.6,1097.3 478.1,1096.0 479.6,1094.7 481.1,1093.3 482.6,1092.0 484.1,1090.7 485.6,1089.4 487.2,1088.1 488.7,1086.8 490.2,1085.5 491.7,1084.1 493.2,1082.8 494.7,1081.5 496.2,1080.1 497.6,1078.8 499.1,1077.4 500.5,1076.0 502.0,1074.7 503.4,1073.3 504.8,1071.9 506.3,1070.5 507.7,1069.1 509.1,1067.6 510.5,1066.2 511.9,1064.8 513.2,1063.3 514.6,1061.9 516.0,1060.4 517.3,1059.0 518.7,1057.5 520.0,1056.0 521.3,1054.5 522.7,1053.1 524.0,1051.6 525.3,1050.1 526.6,1048.6 527.9,1047.1 529.2,1045.6 530.5,1044.0 531.8,1042.5 533.1,1041.0 534.4,1039.5 535.7,1037.9 537.0,1036.4 538.3,1034.9 539.5,1033.3 540.8,1031.8 542.1,1030.3 543.3,1028.7 544.6,1027.2 545.9,1025.6 547.1,1024.1 548.4,1022.5 549.7,1021.0 550.9,1019.4 552.2,1017.9 553.5,1016.3 554.7,1014.7 556.0,1013.2 557.2,1011.6 558.5,1010.1 559.8,1008.5 561.0,1007.0 562.3,1005.4 563.6,1003.9 564.8,1002.3 566.1,1000.8 567.4,999.2 568.7,997.7 570.0,996.2 571.2,994.6 572.5,993.1 573.8,991.6 575.1,990.0 576.4,988.5 577.7,987.0 579.0,985.5 580.4,983.9 581.7,982.4 583.0,980.9 584.3,979.4 585.7,977.9 587.0,976.4 588.4,975.0 589.7,973.5 591.1,972.0 592.4,970.5 593.8,969.0 595.1,967.6 596.5,966.1 597.9,964.6 599.3,963.2 600.7,961.7 602.1,960.3 603.5,958.8 604.9,957.4 606.3,956.0 607.7,954.5 609.1,953.1 610.5,951.7 611.9,950.3 613.3,948.8 614.8,947.4 616.2,946.0 617.6,944.6 619.1,943.2 620.5,941.8 622.0,940.4 623.4,939.1 624.9,937.7 626.4,936.3 627.8,934.9 629.3,933.6 630.8,932.2 632.2,930.8 633.7,929.5 635.2,928.1 636.7,926.8 638.2,925.4 639.7,924.1 641.2,922.8 642.7,921.4 644.2,920.1 645.7,918.8 647.2,917.5 648.7,916.2 650.2,914.9 651.8,913.6 653.3,912.3 654.8,911.0 656.4,909.7 657.9,908.4 659.4,907.1 661.0,905.8 662.5,904.6 664.1,903.3 665.6,902.0 667.2,900.8 668.7,899.5 670.3,898.3 671.9,897.0 673.4,895.8 675.0,894.5 676.6,893.3 678.2,892.1 679.7,890.9 681.3,889.6 682.9,888.4 684.5,887.2 686.1,886.0 687.7,884.8 689.3,883.6 690.9,882.4 692.5,881.2 694.1,880.0 695.7,878.8 697.3,877.7 698.9,876.5 700.5,875.3 702.1,874.1 703.7,872.9 705.3,871.8 707.0,870.6 708.6,869.4 710.2,868.3 711.8,867.1 713.4,865.9 715.1,864.8 716.7,863.6 718.3,862.5 720.0,861.3 721.6,860.2 723.2,859.0 724.8,857.9 726.5,856.7 728.1,855.6 729.7,854.4 731.4,853.3 733.0,852.1 734.6,851.0 736.3,849.8 737.9,848.7 739.6,847.5 741.2,846.4 742.8,845.2 744.5,844.1 746.1,842.9 747.8,841.8 749.4,840.6 751.0,839.5 752.7,838.3 754.3,837.2 755.9,836.0 757.6,834.8 759.2,833.7 760.9,832.5 762.5,831.4 764.1,830.2 765.8,829.0 767.4,827.9 769.0,826.7 770.7,825.5 772.3,824.3 773.9,823.2 775.6,822.0 777.2,820.8 778.8,819.6 780.4,818.4 782.1,817.2 783.7,816.0 785.3,814.8 786.9,813.6 788.6,812.4 790.2,811.2 791.8,810.0 793.4,808.8 795.1,807.6 796.7,806.4 798.3,805.2 800.0,804.0 801.6,802.9 803.2,801.7 804.8,800.5 806.5,799.3 808.1,798.1 809.8,796.9 811.4,795.8 813.0,794.6 814.7,793.4 816.3,792.3 818.0,791.1 819.6,790.0 821.3,788.8 823.0,787.7 824.6,786.6 826.3,785.4 828.0,784.3 829.6,783.2 831.3,782.1 833.0,781.0 834.7,780.0 836.4,778.9 838.1,777.9 839.8,776.8 841.5,775.8 843.2,774.8 844.9,773.7 846.7,772.7 848.4,771.8 850.1,770.8 851.9,769.8 853.6,768.9 855.4,767.9 857.2,767.0 858.9,766.1 860.7,765.2 862.5,764.4 864.3,763.5 866.1,762.7 867.9,761.8 869.7,761.0 871.6,760.2 873.4,759.5 875.2,758.7 877.1,758.0 878.9,757.2 880.8,756.5 882.7,755.8 884.5,755.1 886.4,754.4 888.3,753.7 890.2,753.0 892.1,752.4 894.0,751.7 895.9,751.1 897.8,750.4 899.7,749.8 901.6,749.2 903.5,748.6 905.4,747.9 907.3,747.3 909.2,746.7 911.2,746.1 913.1,745.5 915.0,744.9 916.9,744.3 918.8,743.7 920.8,743.1 922.7,742.5 924.6,741.9 926.5,741.3 928.4,740.7 930.4,740.1 932.3,739.4 934.2,738.8 936.1,738.2 938.0,737.5 939.9,736.9 941.8,736.3 943.7,735.6 945.6,734.9 947.5,734.3 949.4,733.6 951.3,732.9 953.1,732.2 955.0,731.5 956.9,730.8 958.7,730.0 960.6,729.3 962.4,728.5 964.3,727.7 966.1,726.9 967.9,726.1 969.8,725.3 971.6,724.4 973.4,723.6 975.2,722.7 976.9,721.8 978.7,720.9 980.5,719.9 982.2,719.0 984.0,718.0 985.7,717.0 987.5,716.0 989.2,714.9 990.9,713.8 992.6,712.8 994.3,711.7 996.0,710.5 997.6,709.4 999.3,708.3 1001.0,707.1 1002.6,706.0 1004.3,704.8 1005.9,703.6 1007.5,702.4 1009.2,701.2 1010.8,700.0 1012.4,698.8 1014.0,697.6 1015.7,696.4 1017.3,695.2 1018.9,694.0 1020.5,692.8 1022.1,691.7 1023.7,690.5 1025.3,689.3 1027.0,688.1 1028.6,687.0 1030.2,685.8 1031.8,684.7 1033.4,683.6 1035.0,682.5 1036.7,681.4 1038.3,680.3 1039.9,679.3 1041.5,678.3 1043.2,677.2 1044.8,676.2 1046.4,675.2 1048.1,674.2 1049.7,673.2 1051.3,672.2 1053.0,671.2 1054.6,670.2 1056.2,669.2 1057.8,668.1 1059.4,667.1 1061.0,666.0 1062.6,664.9 1064.2,663.7 1065.8,662.5 1067.4,661.3 1069.0,660.1 1070.5,658.8 1072.0,657.4 1073.6,656.0 1075.1,654.6 1076.6,653.1 1078.1,651.6 1079.5,650.0 1081.0,648.4 1082.5,646.7 1083.9,645.0 1085.4,643.3 1086.8,641.7 1088.2,640.0 1089.7,638.3 1091.1,636.6 1092.5,634.9 1094.0,633.3 1095.4,631.7 1096.8,630.1 1098.3,628.6 1099.8,627.1 1101.2,625.7 1102.7,624.3 1104.2,623.1 1105.7,621.9 1107.2,620.8 1108.8,619.8 1110.3,618.8 1111.9,618.0 1113.5,617.3 1115.1,616.8 1116.7,616.3 1118.4,616.0 1120.1,615.8 1121.8,615.8 1123.5,615.9 1125.3,616.2 1127.1,616.6 1128.9,617.1 1130.7,617.7 1132.5,618.4 1134.3,619.3 1136.0,620.2 1137.8,621.1 1139.6,622.2 1141.3,623.3 1143.1,624.4 1144.7,625.6 1146.4,626.9 1148.0,628.1 1149.6,629.4 1151.2,630.7 1152.7,632.0 1154.2,633.4 1155.7,634.8 1157.1,636.2 1158.5,637.6 1159.9,639.0 1161.3,640.5 1162.6,641.9 1163.9,643.4 1165.2,644.9 1166.5,646.4 1167.8,648.0 1169.1,649.5 1170.3,651.0 1171.6,652.6 1172.8,654.2 1174.0,655.7 1175.3,657.3 1176.5,658.9 1177.7,660.5 1178.9,662.1 1180.1,663.7 1181.3,665.3 1182.5,666.9 1183.7,668.5 1185.0,670.1 1186.2,671.7 1187.4,673.3 1188.7,674.8 1189.9,676.4 1191.2,678.0 1192.5,679.6 1193.8,681.1 1195.0,682.7 1196.3,684.2 1197.7,685.8 1199.0,687.3 1200.3,688.9 1201.6,690.4 1202.9,691.9 1204.3,693.5 1205.6,695.0 1206.9,696.6 1208.2,698.1 1209.5,699.7 1210.8,701.2 1212.1,702.7 1213.4,704.3 1214.7,705.9 1216.0,707.4 1217.3,709.0 1218.5,710.6 1219.8,712.1 1221.0,713.7 1222.2,715.3 1223.4,716.9 1224.6,718.5 1225.8,720.1 1227.0,721.8 1228.1,723.4 1229.2,725.0 1230.3,726.7 1231.4,728.3 1232.5,730.0 1233.6,731.7 1234.6,733.4 1235.7,735.1 1236.7,736.8 1237.7,738.5 1238.7,740.2 1239.7,741.9 1240.6,743.6 1241.6,745.4 1242.5,747.1 1243.4,748.8 1244.3,750.6 1245.2,752.4 1246.1,754.1 1247.0,755.9 1247.8,757.7 1248.7,759.5 1249.5,761.3 1250.3,763.1 1251.1,764.9 1251.9,766.7 1252.7,768.5 1253.5,770.3 1254.2,772.1 1255.0,774.0 1255.7,775.8 1256.4,777.7 1257.2,779.5 1257.9,781.4 1258.5,783.2 1259.2,785.1 1259.9,787.0 1260.6,788.8 1261.2,790.7 1261.8,792.6 1262.5,794.5 1263.1,796.4 1263.7,798.3 1264.3,800.2 1264.9,802.1 1265.5,804.0 1266.1,805.9 1266.6,807.9 1267.2,809.8 1267.7,811.7 1268.3,813.6 1268.8,815.6 1269.3,817.5 1269.8,819.4 1270.3,821.4 1270.8,823.3 1271.3,825.3 1271.8,827.2 1272.3,829.2 1272.8,831.2 1273.2,833.1 1273.7,835.1 1274.2,837.0 1274.6,839.0 1275.0,841.0 1275.5,843.0 1275.9,844.9 1276.3,846.9 1276.7,848.9 1277.1,850.9 1277.6,852.9 1278.0,854.8 1278.4,856.8 1278.7,858.8 1279.1,860.8 1279.5,862.8 1279.9,864.8 1280.3,866.8 1280.6,868.8 1281.0,870.8 1281.4,872.8 1281.7,874.8 1282.1,876.8 1282.4,878.8 1282.8,880.8 1283.1,882.7 1283.5,884.7 1283.8,886.7 1284.1,888.7 1284.5,890.7 1284.8,892.7 1285.1,894.7 1285.5,896.7 1285.8,898.7 1286.1,900.7 1286.4,902.7 1286.7,904.7 1287.1,906.7 1287.4,908.7 1287.7,910.7 1288.0,912.7 1288.3,914.7 1288.7,916.7 1289.0,918.7 1289.3,920.7 1289.6,922.7 1289.9,924.6 1290.2,926.6 1290.5,928.6 1290.8,930.6 1291.1,932.6 1291.4,934.6 1291.7,936.6 1292.0,938.5 1292.3,940.5 1292.6,942.5 1292.9,944.5 1293.2,946.5 1293.5,948.5 1293.8,950.4 1294.1,952.4 1294.4,954.4 1294.7,956.4 1295.0,958.4 1295.3,960.4 1295.6,962.3 1295.9,964.3 1296.2,966.3 1296.5,968.3 1296.8,970.2 1297.1,972.2 1297.4,974.2 1297.6,976.2 1297.9,978.2 1298.2,980.1 1298.5,982.1 1298.8,984.1 1299.1,986.1 1299.4,988.0 1299.7,990.0 1299.9,992.0 1300.2,994.0 1300.5,995.9 1300.8,997.9 1301.1,999.9 1301.4,1001.8 1301.7,1003.8 1301.9,1005.8 1302.2,1007.8 1302.5,1009.7 1302.8,1011.7 1303.1,1013.7 1303.4,1015.7 1303.7,1017.6 1303.9,1019.6 1304.2,1021.6 1304.5,1023.5 1304.8,1025.5 1305.1,1027.5 1305.4,1029.5 1305.7,1031.4 1306.0,1033.4 1306.2,1035.4 1306.5,1037.3 1306.8,1039.3 1307.1,1041.3 1307.4,1043.2 1307.7,1045.2 1308.0,1047.2 1308.3,1049.2 1308.6,1051.1 1308.8,1053.1 1309.1,1055.1 1309.4,1057.0 1309.7,1059.0 1310.0,1061.0 1310.3,1063.0 1310.6,1064.9 1310.9,1066.9 1311.2,1068.9 1311.5,1070.8 1311.8,1072.8 1312.1,1074.8 1312.4,1076.8 1312.7,1078.7 1313.0,1080.7 1313.3,1082.7 1313.6,1084.6 1313.9,1086.6 1314.2,1088.6 1314.5,1090.6 1314.8,1092.5 1315.1,1094.5 1315.4,1096.5 1315.7,1098.4 1316.0,1100.4 1316.3,1102.4 1316.7,1104.4 1317.0,1106.3 1317.3,1108.3 1317.6,1110.3 1317.9,1112.3 1318.2,1114.2 1318.6,1116.2 1318.9,1118.2 1319.2,1120.2 1319.5,1122.2 1319.9,1124.1 1320.2,1126.1 1320.5,1128.1 1320.8,1130.1 1321.2,1132.0 1321.5,1134.0 1321.8,1136.0 1322.2,1138.0 1322.5,1140.0 1322.8,1141.9 1323.2,1143.9 1323.5,1145.9 1323.9,1147.9 1324.2,1149.9 1324.6,1151.9 1324.9,1153.8 1325.3,1155.8 1325.6,1157.8 1326.0,1159.8 1326.3,1161.8 1326.7,1163.7 1327.1,1165.7 1327.4,1167.7 1327.8,1169.7 1328.2,1171.7 1328.6,1173.7 1328.9,1175.6 1329.3,1177.6 1329.7,1179.6 1330.1,1181.6 1330.5,1183.5 1330.9,1185.5 1331.3,1187.5 1331.7,1189.5 1332.1,1191.5 1332.5,1193.4 1332.9,1195.4 1333.3,1197.4 1333.7,1199.3 1334.1,1201.3 1334.6,1203.3 1335.0,1205.3 1335.4,1207.2 1335.9,1209.2 1336.3,1211.2 1336.7,1213.1 1337.2,1215.1 1337.6,1217.0 1338.1,1219.0 1338.6,1221.0 1339.0,1222.9 1339.5,1224.9 1340.0,1226.8 1340.4,1228.8 1340.9,1230.7 1341.4,1232.7 1341.9,1234.6 1342.4,1236.6 1342.9,1238.5 1343.4,1240.5 1343.9,1242.4 1344.5,1244.4 1345.0,1246.3 1345.5,1248.2 1346.1,1250.2 1346.6,1252.1 1347.1,1254.0 1347.7,1256.0 1348.3,1257.9 1348.8,1259.8 1349.4,1261.7 1350.0,1263.6 1350.5,1265.6 1351.1,1267.5 1351.7,1269.4 1352.3,1271.3 1352.9,1273.2 1353.5,1275.1 1354.2,1277.0 1354.8,1278.9 1355.4,1280.8 1356.0,1282.7 1356.7,1284.6 1357.3,1286.5 1358.0,1288.4 1358.7,1290.3 1359.3,1292.1 1360.0,1294.0 1360.7,1295.9 1361.4,1297.8 1362.1,1299.6 1362.8,1301.5 1363.5,1303.4 1364.2,1305.2 1365.0,1307.1 1365.7,1308.9 1366.4,1310.8 1367.2,1312.6 1367.9,1314.5 1368.7,1316.3 1369.5,1318.1 1370.3,1320.0 1371.1,1321.8 1371.8,1323.6 1372.7,1325.4 1373.5,1327.2 1374.3,1329.1 1375.1,1330.9 1376.0,1332.7 1376.8,1334.5 1377.7,1336.3 1378.5,1338.1 1379.4,1339.9 1380.3,1341.6 1381.2,1343.4 1382.1,1345.2 1383.0,1347.0 1383.9,1348.7 1384.8,1350.5 1385.8,1352.3 1386.7,1354.0 1387.6,1355.8 1388.6,1357.5 1389.6,1359.3 1390.6,1361.0 1391.6,1362.7 1392.6,1364.5 1393.6,1366.2 1394.6,1367.9 1395.6,1369.6 1396.7,1371.3 1397.7,1373.1 1398.8,1374.8 L1423.2,1373.3" fill="none" stroke="#0a8c0a" stroke-width="6.0" stroke-linejoin="round" stroke-linecap="round"/>
<text transform="matrix(0.7993,0,0,0.8074,188.22,1411.15)" font-size="100">0</text>
<text transform="matrix(0.7993,0,0,0.8074,148.77,1225.66)" font-size="100">2</text>
<text transform="matrix(0.7993,0,0,0.8074,188.22,1225.38)" font-size="100">0</text>
<text transform="matrix(0.7993,0,0,0.8074,148.16,1039.73)" font-size="100">4</text>
<text transform="matrix(0.7993,0,0,0.8074,188.22,1039.61)" font-size="100">0</text>
<text transform="matrix(0.7993,0,0,0.8074,147.79,853.72)" font-size="100">6</text>
<text transform="matrix(0.7993,0,0,0.8074,188.22,853.84)" font-size="100">0</text>
<text transform="matrix(0.7993,0,0,0.8074,148.32,668.07)" font-size="100">8</text>
<text transform="matrix(0.7993,0,0,0.8074,188.22,668.07)" font-size="100">0</text>
<text transform="matrix(0.6782,0,0,0.8074,111.10,482.28)" font-size="100">1</text>
<text transform="matrix(0.7993,0,0,0.8074,148.32,482.29)" font-size="100">0</text>
<text transform="matrix(0.7993,0,0,0.8074,188.22,482.29)" font-size="100">0</text>
<text transform="matrix(0.6782,0,0,0.8074,111.10,296.51)" font-size="100">1</text>
<text transform="matrix(0.7993,0,0,0.8074,148.77,296.80)" font-size="100">2</text>
<text transform="matrix(0.7993,0,0,0.8074,188.22,296.52)" font-size="100">0</text>
<text transform="matrix(0.6782,0,0,0.8074,111.10,110.74)" font-size="100">1</text>
<text transform="matrix(0.7993,0,0,0.8074,148.16,110.87)" font-size="100">4</text>
<text transform="matrix(0.7993,0,0,0.8074,188.22,110.75)" font-size="100">0</text>
<text transform="matrix(0.7993,0,0,0.8074,326.62,1490.45)" font-size="100">0</text>
<text transform="matrix(0.6782,0,0,0.8074,566.80,1490.44)" font-size="100">1</text>
<text transform="matrix(0.7993,0,0,0.8074,605.32,1490.45)" font-size="100">0</text>
<text transform="matrix(0.7993,0,0,0.8074,823.57,1490.73)" font-size="100">2</text>
<text transform="matrix(0.7993,0,0,0.8074,863.72,1490.45)" font-size="100">0</text>
<text transform="matrix(0.7993,0,0,0.8074,1081.17,1490.34)" font-size="100">3</text>
<text transform="matrix(0.7993,0,0,0.8074,1122.12,1490.45)" font-size="100">0</text>
<text transform="matrix(0.7993,0,0,0.8074,1339.76,1490.57)" font-size="100">4</text>
<text transform="matrix(0.7993,0,0,0.8074,1380.52,1490.45)" font-size="100">0</text>
<text transform="matrix(0.7993,0,0,0.8074,1597.56,1490.04)" font-size="100">5</text>
<text transform="matrix(0.7993,0,0,0.8074,1638.92,1490.45)" font-size="100">0</text>
<text transform="matrix(0.7993,0,0,0.8074,1856.19,1490.34)" font-size="100">6</text>
<text transform="matrix(0.7993,0,0,0.8074,1897.32,1490.45)" font-size="100">0</text>
<line x1="308.0" y1="111.6" x2="459.0" y2="111.6" stroke="#000000" stroke-width="6.0"/>
<path d="M368.5,102.1L398.5,102.1L383.5,129.1Z" fill="#000000"/>
<line x1="869.0" y1="111.6" x2="1020.0" y2="111.6" stroke="#e6a428" stroke-width="6.0"/>
<path d="M929.5,102.1L959.5,102.1L944.5,129.1Z" fill="#e6a428"/>
<line x1="308.0" y1="231.6" x2="459.0" y2="231.6" stroke="#0000ff" stroke-width="6.0"/>
<path d="M368.5,222.1L398.5,222.1L383.5,249.1Z" fill="#0000ff"/>
<line x1="873.0" y1="231.6" x2="1024.0" y2="231.6" stroke="#ff00ff" stroke-width="6.0"/>
<line x1="308.0" y1="351.6" x2="459.0" y2="351.6" stroke="#ff0000" stroke-width="6.0"/>
<path d="M368.5,342.1L398.5,342.1L383.5,369.1Z" fill="#ff0000"/>
<line x1="873.0" y1="351.6" x2="1024.0" y2="351.6" stroke="#0a8c0a" stroke-width="6.0"/>
<text transform="matrix(0.8754,0,0,0.8323,476.11,135.20)" font-size="100" font-style="italic">X</text>
<text transform="matrix(0.4745,0,0,0.5031,525.33,161.91)" font-size="100">POPC</text>
<text transform="matrix(0.9090,0,0,0.7440,657.47,132.00)" font-size="100">=</text>
<text transform="matrix(0.8400,0,0,0.8358,722.80,135.28)" font-size="100">0</text>
<text transform="matrix(0.8754,0,0,0.8323,476.11,255.20)" font-size="100" font-style="italic">X</text>
<text transform="matrix(0.4745,0,0,0.5031,525.33,281.91)" font-size="100">POPC</text>
<text transform="matrix(0.9090,0,0,0.7440,657.47,252.00)" font-size="100">=</text>
<text transform="matrix(0.7774,0,0,0.8304,723.04,254.92)" font-size="100">0.4</text>
<text transform="matrix(0.8754,0,0,0.8323,476.11,375.20)" font-size="100" font-style="italic">X</text>
<text transform="matrix(0.4745,0,0,0.5031,525.33,401.91)" font-size="100">POPC</text>
<text transform="matrix(0.9090,0,0,0.7440,657.47,372.00)" font-size="100">=</text>
<text transform="matrix(0.7838,0,0,0.8304,723.01,374.92)" font-size="100">0.8</text>
<text transform="matrix(0.8754,0,0,0.8323,1037.11,135.20)" font-size="100" font-style="italic">X</text>
<text transform="matrix(0.4745,0,0,0.5031,1086.33,161.91)" font-size="100">POPC</text>
<text transform="matrix(0.9090,0,0,0.7440,1218.47,132.00)" font-size="100">=</text>
<text transform="matrix(0.7910,0,0,0.8304,1284.49,134.92)" font-size="100">0.2</text>
<text transform="matrix(0.8754,0,0,0.8323,1041.11,255.20)" font-size="100" font-style="italic">X</text>
<text transform="matrix(0.4745,0,0,0.5031,1090.33,281.91)" font-size="100">POPC</text>
<text transform="matrix(0.9090,0,0,0.7440,1222.47,252.00)" font-size="100">=</text>
<text transform="matrix(0.7867,0,0,0.8304,1288.60,254.92)" font-size="100">0.6</text>
<text transform="matrix(0.8754,0,0,0.8323,1041.11,375.20)" font-size="100" font-style="italic">X</text>
<text transform="matrix(0.4745,0,0,0.5031,1090.33,401.91)" font-size="100">POPC</text>
<text transform="matrix(0.9090,0,0,0.7440,1222.47,372.00)" font-size="100">=</text>
<text transform="matrix(0.5340,0,0,0.8407,1295.31,375.20)" font-size="100">1</text>
<text transform="matrix(0.7865,0,0,0.7901,672.54,1603.83)" font-size="100">Surface</text>
<text transform="matrix(0.7814,0,0,0.8113,930.54,1603.63)" font-size="100">pressure</text>
<text transform="matrix(0.8838,0,0,0.7874,1207.02,1603.24)" font-size="100">(</text>
<text transform="matrix(0.7434,0,0,0.7725,1234.64,1603.10)" font-size="100">m</text>
<text transform="matrix(0.8279,0,0,0.8018,1291.52,1603.10)" font-size="100">N</text>
<text transform="matrix(0.8378,0,0,0.8294,1346.10,1609.86)" font-size="100">·</text>
<text transform="matrix(0.7636,0,0,0.7725,1370.20,1603.10)" font-size="100">m</text>
<text transform="matrix(0.5351,0,0,0.5351,1427.33,1571.43)" font-size="100">−</text>
<text transform="matrix(0.3400,0,0,0.4850,1457.48,1565.41)" font-size="100">1</text>
<text transform="matrix(0.8293,0,0,0.7753,1476.33,1602.29)" font-size="100">)</text>
<text transform="matrix(0,-0.7992,0.7954,0,84.66,980.45)" font-size="100" font-style="italic">C</text>
<text transform="matrix(0,-0.5454,0.4912,0,113.12,932.95)" font-size="100">S</text>
<text transform="matrix(0,-0.4792,0.4792,0,52.12,905.49)" font-size="100">−</text>
<text transform="matrix(0,-0.3400,0.4850,0,47.81,876.17)" font-size="100">1</text>
<text transform="matrix(0,-0.8916,0.7709,0,85.19,836.62)" font-size="100">(</text>
<text transform="matrix(0,-0.6921,0.7428,0,85.20,807.95)" font-size="100">m</text>
<text transform="matrix(0,-0.7816,0.7835,0,85.20,750.85)" font-size="100">N</text>
<text transform="matrix(0,-0.8294,0.8294,0,92.96,696.91)" font-size="100">·</text>
<text transform="matrix(0,-0.7515,0.7598,0,86.00,673.38)" font-size="100">m</text>
<text transform="matrix(0,-0.4921,0.4921,0,52.11,614.15)" font-size="100">−</text>
<text transform="matrix(0,-0.3400,0.4850,0,47.71,585.72)" font-size="100">1</text>
<text transform="matrix(0,-0.8099,0.7709,0,85.19,565.21)" font-size="100">)</text></svg>
</body></html>
